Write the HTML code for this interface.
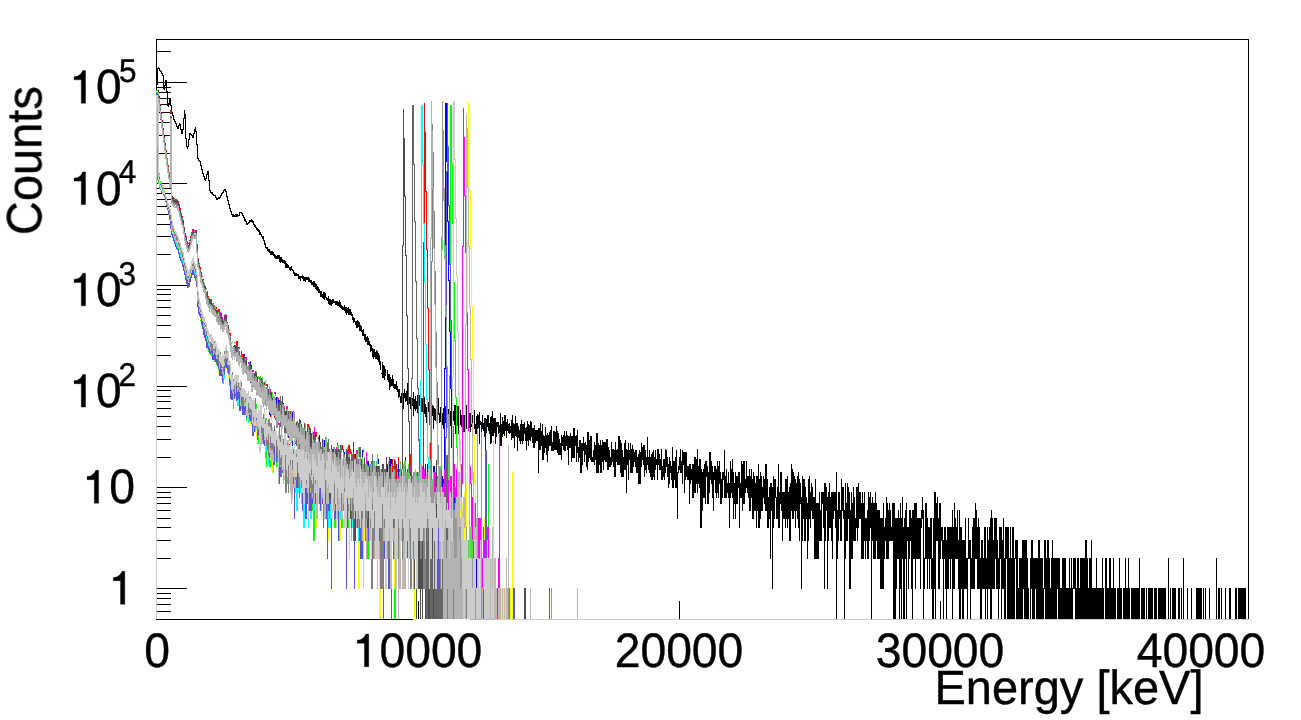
<!DOCTYPE html>
<html><head><meta charset="utf-8"><title>Energy spectrum</title>
<style>
html,body{margin:0;padding:0;background:#fff;}
svg{display:block;font-family:"Liberation Sans",sans-serif;}
</style></head><body>
<svg width="1301" height="720" viewBox="0 0 1301 720" shape-rendering="crispEdges">
<rect width="1301" height="720" fill="#fff"/>
<path d="M156 39h1093v1h-1093zM156 619h1093v1h-1093zM156 39h1v581h-1zM1248 39h1v581h-1zM156 588h31v1h-31zM156 558h15v1h-15zM156 540h15v1h-15zM156 527h15v1h-15zM156 518h15v1h-15zM156 510h15v1h-15zM156 503h15v1h-15zM156 497h15v1h-15zM156 492h15v1h-15zM156 487h31v1h-31zM156 457h15v1h-15zM156 439h15v1h-15zM156 426h15v1h-15zM156 416h15v1h-15zM156 408h15v1h-15zM156 401h15v1h-15zM156 396h15v1h-15zM156 390h15v1h-15zM156 386h31v1h-31zM156 355h15v1h-15zM156 337h15v1h-15zM156 325h15v1h-15zM156 315h15v1h-15zM156 307h15v1h-15zM156 300h15v1h-15zM156 294h15v1h-15zM156 289h15v1h-15zM156 285h31v1h-31zM156 254h15v1h-15zM156 236h15v1h-15zM156 224h15v1h-15zM156 214h15v1h-15zM156 206h15v1h-15zM156 199h15v1h-15zM156 193h15v1h-15zM156 188h15v1h-15zM156 183h31v1h-31zM156 153h15v1h-15zM156 135h15v1h-15zM156 122h15v1h-15zM156 112h15v1h-15zM156 104h15v1h-15zM156 98h15v1h-15zM156 92h15v1h-15zM156 87h15v1h-15zM156 82h31v1h-31zM156 51h15v1h-15zM156 611h15v1h-15zM156 604h15v1h-15zM156 598h15v1h-15zM156 593h15v1h-15zM418 601h1v18h-1zM679 601h1v18h-1zM940 601h1v18h-1zM1201 601h1v18h-1z" fill="#000"/>
<path d="M156 84h1v535h-1zM157 68h1v17h-1zM158 67h1v2h-1zM159 68h1v3h-1zM160 70h1v2h-1zM161 71h1v3h-1zM162 73h1v3h-1zM163 75h1v14h-1zM164 85h1v5h-1zM165 80h1v6h-1zM166 80h1v12h-1zM167 91h1v15h-1zM168 103h1v4h-1zM169 99h1v5h-1zM170 99h1v7h-1zM171 105h1v8h-1zM172 112h1v4h-1zM173 115h1v5h-1zM174 119h1v3h-1zM175 121h1v3h-1zM176 123h1v4h-1zM177 126h1v3h-1zM178 125h1v4h-1zM179 123h1v3h-1zM180 124h1v6h-1zM181 129h2v5h-2zM183 118h1v12h-1zM184 110h1v9h-1zM185 114h1v25h-1zM186 138h1v9h-1zM187 146h1v3h-1zM188 139h1v8h-1zM189 133h1v7h-1zM190 133h1v2h-1zM191 134h1v2h-1zM192 135h1v3h-1zM193 133h1v5h-1zM194 129h1v5h-1zM195 127h1v5h-1zM196 131h1v14h-1zM197 144h1v15h-1zM198 158h1v3h-1zM199 160h1v2h-1zM200 161h1v5h-1zM201 165h1v5h-1zM202 169h1v5h-1zM203 173h1v4h-1zM204 176h1v4h-1zM205 178h1v3h-1zM206 174h1v5h-1zM207 171h1v4h-1zM208 171h1v10h-1zM209 180h1v11h-1zM210 190h1v3h-1zM211 192h1v2h-1zM212 192h1v3h-1zM213 194h1v2h-1zM214 195h1v1h-1zM215 195h1v3h-1zM216 197h1v3h-1zM217 198h1v2h-1zM218 197h2v2h-2zM220 195h1v3h-1zM221 193h1v3h-1zM222 192h1v2h-1zM223 190h1v3h-1zM224 189h1v2h-1zM225 189h1v3h-1zM226 191h1v6h-1zM227 196h1v5h-1zM228 200h1v5h-1zM229 204h1v5h-1zM230 208h1v4h-1zM231 211h1v4h-1zM232 214h2v3h-2zM234 215h1v2h-1zM235 214h3v3h-3zM238 215h1v1h-1zM239 212h1v4h-1zM240 212h1v1h-1zM241 212h1v2h-1zM242 213h1v3h-1zM243 215h1v3h-1zM244 217h1v4h-1zM245 219h1v3h-1zM246 221h1v4h-1zM247 223h1v2h-1zM248 222h1v2h-1zM249 220h1v3h-1zM250 220h1v2h-1zM251 219h1v3h-1zM252 220h1v3h-1zM253 221h1v4h-1zM254 224h1v3h-1zM255 225h1v3h-1zM256 227h1v3h-1zM257 228h1v3h-1zM258 229h1v3h-1zM259 230h1v5h-1zM260 232h1v3h-1zM261 234h1v3h-1zM262 236h1v3h-1zM263 236h1v5h-1zM264 240h1v5h-1zM265 243h1v5h-1zM266 247h1v2h-1zM267 247h1v4h-1zM268 249h1v3h-1zM269 249h1v4h-1zM270 251h3v4h-3zM273 252h1v4h-1zM274 254h1v4h-1zM275 255h1v4h-1zM276 256h1v3h-1zM277 255h2v4h-2zM279 255h1v7h-1zM280 257h1v6h-1zM281 257h1v5h-1zM282 259h1v4h-1zM283 260h1v3h-1zM284 260h1v4h-1zM285 261h1v7h-1zM286 263h1v5h-1zM287 264h1v4h-1zM288 265h1v3h-1zM289 267h1v3h-1zM290 267h1v4h-1zM291 266h1v4h-1zM292 269h1v2h-1zM293 270h1v4h-1zM294 272h1v4h-1zM295 273h2v3h-2zM297 274h1v2h-1zM298 274h1v5h-1zM299 276h1v3h-1zM300 276h1v5h-1zM301 276h1v2h-1zM302 275h1v4h-1zM303 276h1v5h-1zM304 277h1v4h-1zM305 277h1v5h-1zM306 277h2v3h-2zM308 277h1v5h-1zM309 278h1v4h-1zM310 280h1v3h-1zM311 280h1v5h-1zM312 282h1v3h-1zM313 281h2v6h-2zM315 283h1v6h-1zM316 284h1v6h-1zM317 286h1v5h-1zM318 287h1v6h-1zM319 289h1v4h-1zM320 291h2v6h-2zM322 294h1v4h-1zM323 292h1v7h-1zM324 292h1v8h-1zM325 293h1v5h-1zM326 297h1v3h-1zM327 298h1v3h-1zM328 296h1v8h-1zM329 299h2v6h-2zM331 300h1v6h-1zM332 299h1v5h-1zM333 299h1v4h-1zM334 301h1v2h-1zM335 301h2v4h-2zM337 301h1v5h-1zM338 302h1v4h-1zM339 300h1v7h-1zM340 302h1v6h-1zM341 305h1v4h-1zM342 306h1v4h-1zM343 307h1v3h-1zM344 305h1v6h-1zM345 307h1v6h-1zM346 307h1v8h-1zM347 308h1v5h-1zM348 307h1v8h-1zM349 309h2v6h-2zM351 312h1v4h-1zM352 314h1v6h-1zM353 317h1v6h-1zM354 318h1v4h-1zM355 321h1v4h-1zM356 321h1v7h-1zM357 320h1v8h-1zM358 321h1v6h-1zM359 322h1v9h-1zM360 325h1v6h-1zM361 326h1v6h-1zM362 330h1v6h-1zM363 329h1v7h-1zM364 334h1v6h-1zM365 334h1v8h-1zM366 337h1v5h-1zM367 336h1v9h-1zM368 338h1v7h-1zM369 341h1v5h-1zM370 344h1v8h-1zM371 345h1v6h-1zM372 348h1v9h-1zM373 349h1v10h-1zM374 349h1v8h-1zM375 352h1v7h-1zM376 350h1v9h-1zM377 351h1v9h-1zM378 353h1v9h-1zM379 355h1v10h-1zM380 361h1v9h-1zM381 361h1v13h-1zM382 362h1v16h-1zM383 365h1v13h-1zM384 366h1v14h-1zM385 369h1v7h-1zM386 369h1v11h-1zM387 370h1v10h-1zM388 374h1v8h-1zM389 374h1v16h-1zM390 377h1v10h-1zM391 379h1v7h-1zM392 375h1v11h-1zM393 379h1v9h-1zM394 384h2v5h-2zM396 381h1v9h-1zM397 386h1v6h-1zM398 389h1v9h-1zM399 389h1v8h-1zM400 396h1v7h-1zM401 393h1v10h-1zM402 391h1v18h-1zM403 393h1v16h-1zM404 389h1v9h-1zM405 393h1v9h-1zM406 391h1v10h-1zM407 383h1v22h-1zM408 398h1v8h-1zM409 397h1v7h-1zM410 397h1v12h-1zM411 400h1v14h-1zM412 398h1v8h-1zM413 392h1v24h-1zM414 399h1v10h-1zM415 396h1v15h-1zM416 401h1v8h-1zM417 395h1v18h-1zM418 395h1v17h-1zM419 395h1v11h-1zM420 398h1v11h-1zM421 398h2v14h-2zM423 397h1v18h-1zM424 397h1v17h-1zM425 404h1v13h-1zM426 407h1v16h-1zM427 402h1v21h-1zM428 402h1v10h-1zM429 403h2v13h-2zM431 408h1v6h-1zM432 405h1v11h-1zM433 406h1v23h-1zM434 408h1v12h-1zM435 409h1v12h-1zM436 413h1v10h-1zM437 401h1v25h-1zM438 398h1v17h-1zM439 413h1v10h-1zM440 407h1v15h-1zM441 406h1v13h-1zM442 413h1v12h-1zM443 408h1v21h-1zM444 406h1v22h-1zM445 406h1v17h-1zM446 411h1v14h-1zM447 406h1v13h-1zM448 409h1v12h-1zM449 409h1v11h-1zM450 411h1v15h-1zM451 403h1v29h-1zM452 403h1v19h-1zM453 411h1v10h-1zM454 405h1v20h-1zM455 405h1v29h-1zM456 416h1v17h-1zM457 406h1v20h-1zM458 406h1v28h-1zM459 411h1v21h-1zM460 410h1v15h-1zM461 415h1v12h-1zM462 410h1v12h-1zM463 415h2v17h-2zM465 411h1v8h-1zM466 405h1v24h-1zM467 406h1v17h-1zM468 414h1v17h-1zM469 413h1v20h-1zM470 413h1v19h-1zM471 414h1v13h-1zM472 415h1v12h-1zM473 409h1v20h-1zM474 410h1v19h-1zM475 424h1v10h-1zM476 416h1v18h-1zM477 414h1v15h-1zM478 415h1v13h-1zM479 412h1v32h-1zM480 421h1v4h-1zM481 422h1v15h-1zM482 415h1v14h-1zM483 423h1v8h-1zM484 418h1v19h-1zM485 418h1v9h-1zM486 419h1v14h-1zM487 415h1v12h-1zM488 415h1v16h-1zM489 423h1v11h-1zM490 417h1v27h-1zM491 416h1v27h-1zM492 411h1v25h-1zM493 418h1v18h-1zM494 418h1v15h-1zM495 418h1v26h-1zM496 422h1v15h-1zM497 422h1v5h-1zM498 422h1v12h-1zM499 425h1v8h-1zM500 413h1v33h-1zM501 424h1v22h-1zM502 417h1v20h-1zM503 421h1v13h-1zM504 415h1v21h-1zM505 415h1v16h-1zM506 422h1v16h-1zM507 419h1v12h-1zM508 424h1v9h-1zM509 423h1v11h-1zM510 426h1v7h-1zM511 420h1v20h-1zM512 415h1v23h-1zM513 423h1v15h-1zM514 424h1v24h-1zM515 416h1v20h-1zM516 423h1v14h-1zM517 423h1v28h-1zM518 426h1v12h-1zM519 430h1v11h-1zM520 424h1v20h-1zM521 420h1v21h-1zM522 424h1v20h-1zM523 424h1v17h-1zM524 422h1v12h-1zM525 428h1v13h-1zM526 427h1v23h-1zM527 421h1v20h-1zM528 424h1v22h-1zM529 425h1v15h-1zM530 421h1v20h-1zM531 422h1v15h-1zM532 428h1v15h-1zM533 428h1v20h-1zM534 425h1v23h-1zM535 430h1v13h-1zM536 430h2v11h-2zM538 428h1v45h-1zM539 428h1v22h-1zM540 423h1v27h-1zM541 431h1v15h-1zM542 424h1v36h-1zM543 435h1v25h-1zM544 436h1v17h-1zM545 427h1v21h-1zM546 435h1v20h-1zM547 433h1v29h-1zM548 435h1v16h-1zM549 432h1v14h-1zM550 430h1v16h-1zM551 426h1v25h-1zM552 442h1v9h-1zM553 431h1v20h-1zM554 431h1v19h-1zM555 432h1v18h-1zM556 426h1v24h-1zM557 431h1v22h-1zM558 433h1v22h-1zM559 439h1v16h-1zM560 443h1v12h-1zM561 435h1v25h-1zM562 437h1v9h-1zM563 435h1v15h-1zM564 431h1v20h-1zM565 436h1v15h-1zM566 431h1v15h-1zM567 435h1v15h-1zM568 436h1v29h-1zM569 436h1v12h-1zM570 433h1v15h-1zM571 436h1v26h-1zM572 436h1v22h-1zM573 428h2v30h-2zM575 436h1v10h-1zM576 435h1v27h-1zM577 430h1v23h-1zM578 447h1v15h-1zM579 440h1v18h-1zM580 440h1v33h-1zM581 443h1v30h-1zM582 443h1v22h-1zM583 437h1v14h-1zM584 443h1v19h-1zM585 442h1v13h-1zM586 445h1v22h-1zM587 432h1v38h-1zM588 432h1v30h-1zM589 440h1v18h-1zM590 436h1v24h-1zM591 436h1v26h-1zM592 457h1v5h-1zM593 450h1v12h-1zM594 442h1v23h-1zM595 445h1v15h-1zM596 433h2v40h-2zM598 443h1v30h-1zM599 445h1v20h-1zM600 440h1v33h-1zM601 445h1v28h-1zM602 440h1v22h-1zM603 442h1v28h-1zM604 442h1v18h-1zM605 442h1v20h-1zM606 439h1v23h-1zM607 439h1v31h-1zM608 447h1v23h-1zM609 450h1v17h-1zM610 457h1v10h-1zM611 442h1v23h-1zM612 449h1v13h-1zM613 449h1v18h-1zM614 450h1v27h-1zM615 442h1v35h-1zM616 450h1v12h-1zM617 449h1v16h-1zM618 436h2v29h-2zM620 440h1v33h-1zM621 443h1v34h-1zM622 450h1v27h-1zM623 457h1v20h-1zM624 443h1v27h-1zM625 440h1v30h-1zM626 449h1v44h-1zM627 450h1v15h-1zM628 443h1v37h-1zM629 450h1v10h-1zM630 443h1v30h-1zM631 449h1v24h-1zM632 445h1v28h-1zM633 449h1v18h-1zM634 452h1v10h-1zM635 450h1v17h-1zM636 450h1v23h-1zM637 457h1v16h-1zM638 454h1v30h-1zM639 450h1v34h-1zM640 452h1v32h-1zM641 443h1v24h-1zM642 447h1v13h-1zM643 445h1v20h-1zM644 445h1v32h-1zM645 450h1v20h-1zM646 457h1v16h-1zM647 437h1v28h-1zM648 457h1v13h-1zM649 450h1v23h-1zM650 457h1v20h-1zM651 454h1v26h-1zM652 452h1v28h-1zM653 450h1v27h-1zM654 457h1v23h-1zM655 450h1v20h-1zM656 459h1v6h-1zM657 449h1v31h-1zM658 449h1v16h-1zM659 454h1v16h-1zM660 459h1v11h-1zM661 449h1v31h-1zM662 466h1v14h-1zM663 459h1v18h-1zM664 459h1v21h-1zM665 449h1v24h-1zM666 450h1v17h-1zM667 457h1v20h-1zM668 464h1v24h-1zM669 457h1v27h-1zM670 461h1v12h-1zM671 466h1v14h-1zM672 447h1v41h-1zM673 461h1v27h-1zM674 461h1v19h-1zM675 457h1v31h-1zM676 450h1v38h-1zM677 472h1v47h-1zM678 466h1v7h-1zM679 457h1v13h-1zM680 449h1v24h-1zM681 461h1v12h-1zM682 450h1v34h-1zM683 452h1v13h-1zM684 452h1v41h-1zM685 452h1v28h-1zM686 452h1v25h-1zM687 466h2v14h-2zM689 464h1v40h-1zM690 464h1v20h-1zM691 469h1v11h-1zM692 464h2v34h-2zM694 457h2v36h-2zM696 459h1v25h-1zM697 449h1v44h-1zM698 466h1v18h-1zM699 459h1v29h-1zM700 459h1v69h-1zM701 469h1v59h-1zM702 472h1v39h-1zM703 469h1v29h-1zM704 464h1v34h-1zM705 461h1v43h-1zM706 461h1v16h-1zM707 466h1v38h-1zM708 472h1v32h-1zM709 452h1v41h-1zM710 452h1v28h-1zM711 461h1v23h-1zM712 466h1v32h-1zM713 472h1v39h-1zM714 466h1v14h-1zM715 466h1v27h-1zM716 469h1v29h-1zM717 461h1v32h-1zM718 466h1v32h-1zM719 461h1v23h-1zM720 472h1v32h-1zM721 479h1v25h-1zM722 472h1v26h-1zM723 472h1v8h-1zM724 450h1v48h-1zM725 476h1v22h-1zM726 469h1v29h-1zM727 483h1v10h-1zM728 472h1v26h-1zM729 483h1v45h-1zM730 461h1v37h-1zM731 469h1v24h-1zM732 459h1v39h-1zM733 472h1v47h-1zM734 483h1v21h-1zM735 472h1v47h-1zM736 476h2v28h-2zM738 472h1v16h-1zM739 472h1v56h-1zM740 483h1v15h-1zM741 461h1v37h-1zM742 464h1v47h-1zM743 461h2v43h-2zM745 479h1v14h-1zM746 461h1v27h-1zM747 476h1v17h-1zM748 476h1v22h-1zM749 469h1v42h-1zM750 476h1v35h-1zM751 469h1v29h-1zM752 479h1v40h-1zM753 472h1v47h-1zM754 476h1v35h-1zM755 483h1v28h-1zM756 476h1v52h-1zM757 476h1v35h-1zM758 464h1v64h-1zM759 479h1v49h-1zM760 472h1v47h-1zM761 476h1v35h-1zM762 487h1v24h-1zM763 476h1v22h-1zM764 479h1v25h-1zM765 464h2v47h-2zM767 479h1v49h-1zM768 497h1v31h-1zM769 487h1v32h-1zM770 483h1v76h-1zM771 483h1v28h-1zM772 487h1v102h-1zM773 476h1v52h-1zM774 479h1v40h-1zM775 479h1v19h-1zM776 497h1v22h-1zM777 487h1v32h-1zM778 464h1v64h-1zM779 492h1v36h-1zM780 472h1v32h-1zM781 472h1v39h-1zM782 492h1v49h-1zM783 492h2v27h-2zM785 479h1v49h-1zM786 479h1v40h-1zM787 476h1v52h-1zM788 492h1v27h-1zM789 487h1v54h-1zM790 483h1v58h-1zM791 464h1v47h-1zM792 469h1v50h-1zM793 472h1v47h-1zM794 476h1v35h-1zM795 479h1v49h-1zM796 483h1v28h-1zM797 476h1v43h-1zM798 472h1v56h-1zM799 479h1v62h-1zM800 483h1v21h-1zM801 497h1v92h-1zM802 476h1v65h-1zM803 479h1v40h-1zM804 479h1v62h-1zM805 487h1v54h-1zM806 497h1v22h-1zM807 503h1v56h-1zM808 479h1v62h-1zM809 476h1v43h-1zM810 492h1v36h-1zM811 483h1v28h-1zM812 487h1v32h-1zM813 497h1v22h-1zM814 497h1v62h-1zM815 479h1v80h-1zM816 503h3v56h-3zM819 492h1v49h-1zM820 510h1v31h-1zM821 492h1v49h-1zM822 492h1v12h-1zM823 492h1v36h-1zM824 483h1v106h-1zM825 483h1v58h-1zM826 487h1v24h-1zM827 497h1v92h-1zM828 492h1v49h-1zM829 483h1v45h-1zM830 497h1v31h-1zM831 492h1v49h-1zM832 492h1v67h-1zM833 492h1v27h-1zM834 492h1v19h-1zM835 492h1v36h-1zM836 472h1v147h-1zM837 510h1v49h-1zM838 492h1v49h-1zM839 492h1v27h-1zM840 510h1v31h-1zM841 479h1v62h-1zM842 487h1v24h-1zM843 487h1v32h-1zM844 510h1v109h-1zM845 483h1v76h-1zM846 503h1v38h-1zM847 483h1v58h-1zM848 487h1v32h-1zM849 492h1v97h-1zM850 510h1v79h-1zM851 492h1v67h-1zM852 503h1v56h-1zM853 487h1v54h-1zM854 497h1v44h-1zM855 518h1v23h-1zM856 487h1v41h-1zM857 487h1v54h-1zM858 483h1v45h-1zM859 492h2v27h-2zM861 503h1v56h-1zM862 492h1v67h-1zM863 503h1v56h-1zM864 492h1v49h-1zM865 518h1v41h-1zM866 518h1v23h-1zM867 510h1v49h-1zM868 492h1v67h-1zM869 497h1v44h-1zM870 492h1v36h-1zM871 503h1v116h-1zM872 497h1v44h-1zM873 503h2v56h-2zM875 492h1v67h-1zM876 503h1v38h-1zM877 510h3v49h-3zM880 518h3v71h-3zM883 503h1v86h-1zM884 527h1v32h-1zM885 518h1v23h-1zM886 497h1v62h-1zM887 503h1v56h-1zM888 510h1v49h-1zM889 503h1v38h-1zM890 510h1v31h-1zM891 527h1v14h-1zM892 503h1v38h-1zM893 503h2v116h-2zM895 518h1v101h-1zM896 518h1v71h-1zM897 518h1v41h-1zM898 510h1v49h-1zM899 518h1v101h-1zM900 503h1v86h-1zM901 518h1v101h-1zM902 497h1v62h-1zM903 527h1v92h-1zM904 518h1v101h-1zM905 510h1v49h-1zM906 503h1v116h-1zM907 527h1v14h-1zM908 527h1v62h-1zM909 510h1v49h-1zM910 510h1v31h-1zM911 518h1v71h-1zM912 510h1v109h-1zM913 510h1v49h-1zM914 503h1v56h-1zM915 503h1v86h-1zM916 503h1v56h-1zM917 518h3v41h-3zM920 518h1v71h-1zM921 510h1v18h-1zM922 497h1v22h-1zM923 510h1v109h-1zM924 558h1v31h-1zM925 503h2v56h-2zM927 518h1v71h-1zM928 527h1v32h-1zM929 527h1v62h-1zM930 518h1v41h-1zM931 518h1v71h-1zM932 558h1v61h-1zM933 518h1v101h-1zM934 492h1v97h-1zM935 492h1v127h-1zM936 503h1v38h-1zM937 497h1v44h-1zM938 518h1v71h-1zM939 503h1v86h-1zM940 503h1v56h-1zM941 527h1v14h-1zM942 527h1v32h-1zM943 540h1v79h-1zM944 527h1v32h-1zM945 527h1v62h-1zM946 540h1v79h-1zM947 527h2v62h-2zM949 527h1v32h-1zM950 527h1v62h-1zM951 527h1v32h-1zM952 510h1v109h-1zM953 527h1v62h-1zM954 503h1v86h-1zM955 518h1v41h-1zM956 527h1v32h-1zM957 510h1v49h-1zM958 540h1v49h-1zM959 510h1v109h-1zM960 527h1v92h-1zM961 527h1v62h-1zM962 540h2v79h-2zM964 540h1v49h-1zM965 518h1v71h-1zM966 558h1v31h-1zM967 558h1v61h-1zM968 518h1v41h-1zM969 540h1v19h-1zM970 540h1v79h-1zM971 558h1v31h-1zM972 527h1v62h-1zM973 518h2v71h-2zM975 503h1v56h-1zM976 510h1v49h-1zM977 527h1v62h-1zM978 518h1v71h-1zM979 527h1v62h-1zM980 558h1v61h-1zM981 540h1v79h-1zM982 540h1v49h-1zM983 558h1v31h-1zM984 527h1v62h-1zM985 527h1v92h-1zM986 558h1v31h-1zM987 527h1v92h-1zM988 540h1v49h-1zM989 527h1v62h-1zM990 518h1v101h-1zM991 510h1v109h-1zM992 518h1v71h-1zM993 540h1v49h-1zM994 518h1v71h-1zM995 518h1v41h-1zM996 518h1v71h-1zM997 540h1v49h-1zM998 558h1v61h-1zM999 527h1v62h-1zM1000 527h1v32h-1zM1001 527h1v92h-1zM1002 540h1v49h-1zM1003 518h1v71h-1zM1004 558h1v61h-1zM1005 527h1v92h-1zM1006 527h1v32h-1zM1007 527h2v92h-2zM1009 558h1v61h-1zM1010 527h1v92h-1zM1011 558h1v61h-1zM1012 527h2v92h-2zM1014 558h1v61h-1zM1015 540h1v19h-1zM1016 540h2v79h-2zM1018 588h1v31h-1zM1019 558h3v61h-3zM1022 540h1v79h-1zM1023 540h1v49h-1zM1024 540h3v79h-3zM1027 558h1v61h-1zM1028 588h1v31h-1zM1029 619h1v1h-1zM1030 558h1v61h-1zM1031 540h1v49h-1zM1032 540h1v79h-1zM1033 558h2v61h-2zM1035 558h1v31h-1zM1036 558h2v61h-2zM1038 540h2v79h-2zM1040 558h3v61h-3zM1043 588h1v31h-1zM1044 540h1v49h-1zM1045 540h1v79h-1zM1046 558h1v61h-1zM1047 540h2v79h-2zM1049 558h1v61h-1zM1050 588h1v31h-1zM1051 558h1v61h-1zM1052 540h1v79h-1zM1053 558h4v61h-4zM1057 558h1v31h-1zM1058 558h2v61h-2zM1060 588h2v31h-2zM1062 558h4v61h-4zM1066 588h3v31h-3zM1069 558h1v61h-1zM1070 588h1v31h-1zM1071 558h1v61h-1zM1072 588h1v31h-1zM1073 558h2v31h-2zM1075 558h1v61h-1zM1076 588h1v31h-1zM1077 558h2v61h-2zM1079 588h1v31h-1zM1080 558h5v61h-5zM1085 540h2v79h-2zM1087 558h1v61h-1zM1088 588h1v31h-1zM1089 558h2v61h-2zM1091 540h1v79h-1zM1092 588h4v31h-4zM1096 558h1v61h-1zM1097 588h5v31h-5zM1102 558h1v61h-1zM1103 588h1v31h-1zM1104 619h1v1h-1zM1105 558h2v61h-2zM1107 588h2v31h-2zM1109 558h2v61h-2zM1111 588h2v31h-2zM1113 558h1v61h-1zM1114 588h2v31h-2zM1116 619h1v1h-1zM1117 588h2v31h-2zM1119 558h1v61h-1zM1120 588h2v31h-2zM1122 619h1v1h-1zM1123 588h2v31h-2zM1125 558h1v61h-1zM1126 588h2v31h-2zM1128 558h1v61h-1zM1129 588h1v31h-1zM1130 619h1v1h-1zM1131 588h8v31h-8zM1139 558h1v61h-1zM1140 619h1v1h-1zM1141 588h4v31h-4zM1145 619h1v1h-1zM1146 588h1v31h-1zM1147 619h1v1h-1zM1148 588h5v31h-5zM1153 619h1v1h-1zM1154 588h3v31h-3zM1157 619h1v1h-1zM1158 588h8v31h-8zM1166 619h2v1h-2zM1168 558h1v61h-1zM1169 619h1v1h-1zM1170 588h1v31h-1zM1171 619h1v1h-1zM1172 588h4v31h-4zM1176 619h2v1h-2zM1178 588h2v31h-2zM1180 619h1v1h-1zM1181 588h1v31h-1zM1182 619h1v1h-1zM1183 558h1v61h-1zM1184 619h3v1h-3zM1187 588h1v31h-1zM1188 619h3v1h-3zM1191 588h1v31h-1zM1192 619h4v1h-4zM1196 588h6v31h-6zM1202 619h1v1h-1zM1203 588h1v31h-1zM1204 619h1v1h-1zM1205 588h1v31h-1zM1206 619h3v1h-3zM1209 588h1v31h-1zM1210 619h6v1h-6zM1216 558h1v61h-1zM1217 619h1v1h-1zM1218 588h2v31h-2zM1220 619h1v1h-1zM1221 588h1v31h-1zM1222 619h3v1h-3zM1225 588h1v31h-1zM1226 619h3v1h-3zM1229 588h2v31h-2zM1231 619h4v1h-4zM1235 588h2v31h-2zM1237 619h1v1h-1zM1238 588h8v31h-8zM1246 619h3v1h-3z" fill="#000"/>
<path d="M156 90h1v529h-1zM157 90h1v1h-1zM158 90h1v72h-1zM159 96h1v9h-1zM160 104h1v9h-1zM161 112h1v9h-1zM162 120h1v9h-1zM163 128h1v9h-1zM164 136h1v8h-1zM165 143h1v8h-1zM166 150h1v9h-1zM167 158h1v8h-1zM168 165h1v8h-1zM169 172h1v8h-1zM170 110h1v70h-1zM171 110h1v87h-1zM172 196h1v3h-1zM173 197h1v3h-1zM174 198h1v3h-1zM175 199h2v2h-2zM177 200h1v2h-1zM178 201h1v4h-1zM179 204h1v5h-1zM180 208h1v6h-1zM181 213h1v5h-1zM182 216h1v5h-1zM183 220h1v8h-1zM184 227h1v7h-1zM185 233h1v5h-1zM186 237h1v6h-1zM187 241h1v5h-1zM188 243h1v3h-1zM189 240h1v4h-1zM190 236h1v5h-1zM191 232h1v6h-1zM192 229h1v4h-1zM193 229h1v3h-1zM194 230h2v2h-2zM196 230h1v15h-1zM197 244h1v15h-1zM198 258h1v6h-1zM199 263h1v5h-1zM200 267h1v6h-1zM201 272h1v6h-1zM202 276h1v4h-1zM203 279h1v5h-1zM204 283h1v6h-1zM205 286h1v6h-1zM206 291h1v6h-1zM207 291h1v7h-1zM208 296h1v7h-1zM209 299h1v3h-1zM210 299h1v6h-1zM211 299h1v8h-1zM212 304h2v4h-2zM214 305h1v6h-1zM215 307h1v5h-1zM216 307h1v6h-1zM217 310h1v6h-1zM218 309h1v7h-1zM219 309h1v8h-1zM220 313h1v6h-1zM221 313h1v12h-1zM222 319h1v4h-1zM223 320h1v5h-1zM224 316h1v9h-1zM225 314h1v8h-1zM226 315h1v11h-1zM227 323h1v5h-1zM228 327h1v5h-1zM229 331h1v10h-1zM230 333h1v10h-1zM231 342h1v11h-1zM232 343h1v10h-1zM233 343h1v9h-1zM234 342h1v7h-1zM235 345h1v7h-1zM236 341h1v11h-1zM237 341h1v13h-1zM238 347h1v7h-1zM239 350h1v7h-1zM240 349h1v12h-1zM241 353h1v6h-1zM242 354h1v12h-1zM243 354h1v11h-1zM244 357h1v6h-1zM245 357h1v12h-1zM246 360h1v7h-1zM247 365h1v6h-1zM248 366h1v8h-1zM249 368h1v9h-1zM250 367h1v9h-1zM251 374h1v8h-1zM252 375h1v7h-1zM253 371h1v11h-1zM254 374h1v6h-1zM255 371h1v10h-1zM256 377h1v5h-1zM257 376h1v12h-1zM258 380h1v8h-1zM259 380h1v6h-1zM260 380h1v11h-1zM261 381h1v10h-1zM262 383h1v12h-1zM263 383h1v10h-1zM264 384h1v6h-1zM265 380h1v15h-1zM266 384h1v14h-1zM267 384h1v16h-1zM268 396h1v10h-1zM269 391h1v11h-1zM270 396h1v21h-1zM271 395h1v22h-1zM272 393h1v16h-1zM273 400h1v8h-1zM274 401h1v17h-1zM275 402h1v11h-1zM276 397h1v16h-1zM277 398h1v15h-1zM278 398h1v17h-1zM279 401h1v16h-1zM280 400h1v13h-1zM281 406h1v9h-1zM282 405h1v10h-1zM283 407h1v19h-1zM284 414h1v14h-1zM285 411h1v17h-1zM286 411h1v12h-1zM287 411h1v16h-1zM288 411h1v27h-1zM289 411h1v39h-1zM290 411h1v18h-1zM291 418h1v16h-1zM292 416h1v10h-1zM293 411h1v26h-1zM294 422h1v6h-1zM295 419h1v25h-1zM296 425h1v19h-1zM297 422h1v16h-1zM298 430h1v14h-1zM299 425h1v15h-1zM300 424h1v20h-1zM301 424h1v36h-1zM302 432h1v30h-1zM303 435h1v18h-1zM304 435h1v13h-1zM305 432h2v16h-2zM307 424h1v24h-1zM308 424h1v27h-1zM309 435h1v16h-1zM310 435h1v38h-1zM311 437h1v23h-1zM312 432h1v28h-1zM313 432h1v18h-1zM314 440h1v13h-1zM315 432h1v28h-1zM316 432h1v38h-1zM317 442h1v20h-1zM318 445h1v32h-1zM319 450h1v27h-1zM320 442h1v20h-1zM321 440h1v11h-1zM322 439h1v23h-1zM323 439h1v19h-1zM324 445h1v20h-1zM325 449h1v31h-1zM326 449h1v21h-1zM327 449h1v16h-1zM328 445h1v17h-1zM329 461h1v12h-1zM330 457h1v8h-1zM331 454h1v19h-1zM332 454h1v26h-1zM333 450h1v30h-1zM334 461h1v6h-1zM335 459h1v11h-1zM336 454h1v26h-1zM337 443h1v24h-1zM338 447h1v33h-1zM339 452h2v36h-2zM341 445h1v43h-1zM342 445h1v25h-1zM343 454h1v23h-1zM344 461h1v12h-1zM345 469h1v15h-1zM346 457h1v23h-1zM347 461h1v19h-1zM348 445h1v28h-1zM349 445h1v32h-1zM350 449h1v44h-1zM351 464h1v29h-1zM352 464h1v34h-1zM353 454h1v44h-1zM354 454h1v50h-1zM355 472h1v32h-1zM356 457h1v31h-1zM357 466h1v38h-1zM358 454h1v26h-1zM359 464h1v16h-1zM360 466h1v22h-1zM361 461h1v27h-1zM362 461h1v23h-1zM363 450h1v48h-1zM364 464h1v20h-1zM365 464h1v13h-1zM366 459h1v18h-1zM367 469h1v24h-1zM368 464h1v24h-1zM369 464h1v34h-1zM370 466h1v32h-1zM371 479h1v5h-1zM372 457h1v41h-1zM373 479h1v9h-1zM374 464h1v34h-1zM375 469h1v29h-1zM376 472h1v26h-1zM377 469h1v59h-1zM378 464h1v34h-1zM379 469h1v19h-1zM380 469h1v42h-1zM381 479h1v32h-1zM382 464h1v20h-1zM383 469h1v15h-1zM384 476h1v43h-1zM385 479h1v40h-1zM386 469h1v59h-1zM387 464h1v40h-1zM388 464h1v34h-1zM389 457h1v31h-1zM390 476h1v35h-1zM391 469h1v24h-1zM392 459h1v29h-1zM393 476h1v22h-1zM394 459h1v29h-1zM395 461h1v58h-1zM396 464h1v55h-1zM397 479h1v40h-1zM398 457h1v62h-1zM399 469h1v29h-1zM400 479h1v19h-1zM401 479h1v32h-1zM402 476h1v28h-1zM403 472h1v32h-1zM404 472h1v39h-1zM405 479h1v32h-1zM406 472h1v12h-1zM407 469h1v29h-1zM408 472h1v47h-1zM409 476h1v43h-1zM410 454h1v65h-1zM411 476h1v28h-1zM412 476h1v65h-1zM413 487h1v54h-1zM414 479h1v32h-1zM415 472h1v21h-1zM416 476h1v28h-1zM417 472h1v26h-1zM418 476h1v22h-1zM419 466h1v62h-1zM420 479h1v49h-1zM421 487h1v17h-1zM422 472h1v32h-1zM423 242h1v235h-1zM424 103h1v140h-1zM425 132h1v60h-1zM426 191h1v59h-1zM427 249h1v60h-1zM428 308h1v62h-1zM429 369h1v56h-1zM430 424h1v49h-1zM431 461h1v37h-1zM432 492h1v36h-1zM433 497h1v44h-1zM434 503h1v25h-1zM435 503h1v86h-1zM436 518h1v101h-1zM437 510h1v109h-1zM438 518h1v101h-1zM439 518h1v71h-1zM440 558h1v31h-1zM441 518h1v71h-1zM442 540h1v49h-1zM443 540h1v19h-1zM444 510h1v49h-1zM445 510h1v109h-1zM446 527h1v92h-1zM447 558h1v61h-1zM448 540h1v79h-1zM449 558h1v31h-1zM450 527h1v92h-1zM451 558h1v61h-1zM452 540h2v79h-2zM454 588h1v31h-1zM455 558h1v61h-1zM456 588h4v31h-4zM460 450h1v169h-1zM461 619h25v1h-25zM486 588h1v31h-1zM487 619h762v1h-762z" fill="#ff0000"/>
<path d="M156 90h1v529h-1zM157 90h1v11h-1zM158 100h1v74h-1zM159 173h1v9h-1zM160 181h1v2h-1zM161 182h1v4h-1zM162 185h1v3h-1zM163 187h1v5h-1zM164 191h1v4h-1zM165 194h1v6h-1zM166 199h1v5h-1zM167 203h1v5h-1zM168 207h1v7h-1zM169 213h1v5h-1zM170 217h1v9h-1zM171 225h1v10h-1zM172 234h1v4h-1zM173 237h1v3h-1zM174 238h1v4h-1zM175 240h1v5h-1zM176 243h1v4h-1zM177 246h1v3h-1zM178 248h1v5h-1zM179 252h1v4h-1zM180 255h1v4h-1zM181 258h1v4h-1zM182 260h1v4h-1zM183 263h1v6h-1zM184 268h1v6h-1zM185 272h1v5h-1zM186 276h1v6h-1zM187 281h1v5h-1zM188 281h1v7h-1zM189 280h1v4h-1zM190 277h1v4h-1zM191 271h1v7h-1zM192 270h2v2h-2zM194 271h1v4h-1zM195 274h1v6h-1zM196 279h1v9h-1zM197 287h1v18h-1zM198 304h1v7h-1zM199 309h1v7h-1zM200 314h1v7h-1zM201 314h1v12h-1zM202 318h1v8h-1zM203 324h1v8h-1zM204 328h1v6h-1zM205 332h1v7h-1zM206 335h1v7h-1zM207 338h1v9h-1zM208 343h1v9h-1zM209 343h1v11h-1zM210 349h1v6h-1zM211 348h1v8h-1zM212 347h1v10h-1zM213 351h1v6h-1zM214 351h1v11h-1zM215 355h1v3h-1zM216 353h1v12h-1zM217 359h1v6h-1zM218 361h1v5h-1zM219 357h1v13h-1zM220 364h1v12h-1zM221 371h1v7h-1zM222 366h1v13h-1zM223 371h1v13h-1zM224 366h1v9h-1zM225 358h1v9h-1zM226 357h1v11h-1zM227 363h1v10h-1zM228 365h1v6h-1zM229 369h1v17h-1zM230 376h1v14h-1zM231 384h1v15h-1zM232 391h1v9h-1zM233 391h1v18h-1zM234 386h1v10h-1zM235 383h1v12h-1zM236 380h1v15h-1zM237 389h1v9h-1zM238 386h1v12h-1zM239 390h1v7h-1zM240 394h1v9h-1zM241 396h1v13h-1zM242 397h1v8h-1zM243 393h1v13h-1zM244 400h1v14h-1zM245 400h1v15h-1zM246 403h1v18h-1zM247 401h1v11h-1zM248 401h1v19h-1zM249 404h1v18h-1zM250 408h1v10h-1zM251 414h1v11h-1zM252 406h1v15h-1zM253 415h1v17h-1zM254 417h1v11h-1zM255 418h1v13h-1zM256 404h1v24h-1zM257 415h1v29h-1zM258 422h1v22h-1zM259 415h1v18h-1zM260 430h1v8h-1zM261 420h1v21h-1zM262 432h1v6h-1zM263 431h1v13h-1zM264 427h1v17h-1zM265 418h1v40h-1zM266 418h1v49h-1zM267 424h1v14h-1zM268 424h1v24h-1zM269 437h1v30h-1zM270 432h1v35h-1zM271 427h1v38h-1zM272 437h1v33h-1zM273 436h1v34h-1zM274 445h1v17h-1zM275 450h1v10h-1zM276 435h2v32h-2zM278 442h3v25h-3zM281 436h1v34h-1zM282 436h1v26h-1zM283 452h1v13h-1zM284 445h1v22h-1zM285 447h1v23h-1zM286 447h1v41h-1zM287 457h1v27h-1zM288 454h1v19h-1zM289 457h1v23h-1zM290 457h1v36h-1zM291 459h1v14h-1zM292 459h1v18h-1zM293 459h1v25h-1zM294 476h1v8h-1zM295 466h1v18h-1zM296 461h1v23h-1zM297 454h1v30h-1zM298 454h1v39h-1zM299 464h1v24h-1zM300 459h1v29h-1zM301 461h1v16h-1zM302 461h1v37h-1zM303 472h1v21h-1zM304 466h1v27h-1zM305 476h1v35h-1zM306 469h1v29h-1zM307 476h1v17h-1zM308 472h1v16h-1zM309 469h1v42h-1zM310 469h1v24h-1zM311 476h1v35h-1zM312 472h1v39h-1zM313 472h1v69h-1zM314 469h1v72h-1zM315 472h1v39h-1zM316 461h1v37h-1zM317 457h1v54h-1zM318 457h1v31h-1zM319 469h2v15h-2zM321 472h1v32h-1zM322 472h1v26h-1zM323 472h1v32h-1zM324 472h1v26h-1zM325 464h1v40h-1zM326 487h1v17h-1zM327 472h1v32h-1zM328 472h1v12h-1zM329 472h1v47h-1zM330 476h1v28h-1zM331 469h1v19h-1zM332 464h1v40h-1zM333 476h1v35h-1zM334 483h1v45h-1zM335 479h1v49h-1zM336 466h1v38h-1zM337 479h1v32h-1zM338 483h1v28h-1zM339 487h1v24h-1zM340 472h1v26h-1zM341 479h1v49h-1zM342 487h1v41h-1zM343 472h1v32h-1zM344 472h1v47h-1zM345 483h1v28h-1zM346 469h1v42h-1zM347 479h1v32h-1zM348 487h1v41h-1zM349 492h2v27h-2zM351 479h1v62h-1zM352 476h1v52h-1zM353 487h1v6h-1zM354 492h1v27h-1zM355 492h1v12h-1zM356 476h1v43h-1zM357 492h2v27h-2zM359 479h1v80h-1zM360 487h1v54h-1zM361 492h2v49h-2zM363 497h1v22h-1zM364 492h2v36h-2zM366 487h1v41h-1zM367 503h1v56h-1zM368 510h1v49h-1zM369 492h1v36h-1zM370 487h1v24h-1zM371 487h1v54h-1zM372 487h2v72h-2zM374 492h1v67h-1zM375 503h2v38h-2zM377 497h1v92h-1zM378 492h1v36h-1zM379 510h1v18h-1zM380 497h1v31h-1zM381 497h2v62h-2zM383 518h1v41h-1zM384 518h1v23h-1zM385 483h1v76h-1zM386 492h1v67h-1zM387 510h1v31h-1zM388 518h1v23h-1zM389 497h1v62h-1zM390 497h1v44h-1zM391 510h2v49h-2zM393 503h1v56h-1zM394 510h2v109h-2zM396 497h1v62h-1zM397 510h1v31h-1zM398 540h1v49h-1zM399 510h1v79h-1zM400 510h1v49h-1zM401 510h1v31h-1zM402 483h1v76h-1zM403 497h1v62h-1zM404 518h1v41h-1zM405 540h1v49h-1zM406 476h1v113h-1zM407 527h1v32h-1zM408 497h1v44h-1zM409 540h1v49h-1zM410 503h1v86h-1zM411 510h1v79h-1zM412 503h1v25h-1zM413 510h1v49h-1zM414 518h1v71h-1zM415 497h1v62h-1zM416 518h1v41h-1zM417 497h2v62h-2zM419 503h1v25h-1zM420 503h1v86h-1zM421 503h1v56h-1zM422 518h1v41h-1zM423 503h2v56h-2zM425 518h1v41h-1zM426 510h1v49h-1zM427 527h1v14h-1zM428 492h1v49h-1zM429 497h1v62h-1zM430 510h1v49h-1zM431 510h1v18h-1zM432 492h1v49h-1zM433 492h1v67h-1zM434 503h1v56h-1zM435 510h2v49h-2zM437 503h1v38h-1zM438 503h1v56h-1zM439 518h1v23h-1zM440 518h1v41h-1zM441 497h1v62h-1zM442 503h1v38h-1zM443 503h1v86h-1zM444 497h1v92h-1zM445 518h2v41h-2zM447 510h2v79h-2zM449 375h1v166h-1zM450 105h1v271h-1zM451 105h1v59h-1zM452 163h1v61h-1zM453 223h1v60h-1zM454 282h1v59h-1zM455 340h1v58h-1zM456 397h1v51h-1zM457 447h1v51h-1zM458 492h1v67h-1zM459 518h1v71h-1zM460 527h1v62h-1zM461 510h1v79h-1zM462 540h1v49h-1zM463 540h1v79h-1zM464 558h1v31h-1zM465 540h1v49h-1zM466 540h1v79h-1zM467 558h1v61h-1zM468 588h2v31h-2zM470 527h1v62h-1zM471 558h1v61h-1zM472 588h1v31h-1zM473 540h1v79h-1zM474 588h4v31h-4zM478 619h1v1h-1zM479 588h3v31h-3zM482 619h2v1h-2zM484 558h1v61h-1zM485 619h1v1h-1zM486 588h1v31h-1zM487 619h1v1h-1zM488 464h1v155h-1zM489 619h760v1h-760z" fill="#00ff00"/>
<path d="M156 91h1v528h-1zM157 91h1v1h-1zM158 91h1v55h-1zM159 97h1v9h-1zM160 105h1v9h-1zM161 113h1v9h-1zM162 121h1v9h-1zM163 129h1v9h-1zM164 137h1v9h-1zM165 145h1v9h-1zM166 153h1v8h-1zM167 160h1v8h-1zM168 167h1v9h-1zM169 175h1v9h-1zM170 113h1v71h-1zM171 113h1v86h-1zM172 198h1v3h-1zM173 200h1v2h-1zM174 201h2v2h-2zM176 202h1v2h-1zM177 203h1v2h-1zM178 203h1v6h-1zM179 208h1v5h-1zM180 212h1v4h-1zM181 215h1v5h-1zM182 218h1v7h-1zM183 224h1v7h-1zM184 230h1v7h-1zM185 236h1v5h-1zM186 239h1v4h-1zM187 242h1v6h-1zM188 247h1v2h-1zM189 243h1v5h-1zM190 240h1v4h-1zM191 235h1v6h-1zM192 232h1v4h-1zM193 232h1v3h-1zM194 233h1v3h-1zM195 232h1v3h-1zM196 232h1v17h-1zM197 248h1v15h-1zM198 261h1v5h-1zM199 265h1v8h-1zM200 272h1v5h-1zM201 275h1v5h-1zM202 279h1v5h-1zM203 281h1v6h-1zM204 284h1v5h-1zM205 287h1v7h-1zM206 292h1v6h-1zM207 296h1v5h-1zM208 298h1v5h-1zM209 301h1v5h-1zM210 303h1v3h-1zM211 302h1v8h-1zM212 303h1v8h-1zM213 305h1v9h-1zM214 310h1v5h-1zM215 311h1v4h-1zM216 311h1v5h-1zM217 314h1v4h-1zM218 313h1v6h-1zM219 317h1v6h-1zM220 318h1v6h-1zM221 318h1v8h-1zM222 318h1v7h-1zM223 322h1v6h-1zM224 318h1v7h-1zM225 318h1v2h-1zM226 319h1v10h-1zM227 323h1v8h-1zM228 327h1v10h-1zM229 333h1v5h-1zM230 337h1v12h-1zM231 344h1v8h-1zM232 348h1v9h-1zM233 347h1v8h-1zM234 348h1v7h-1zM235 346h1v7h-1zM236 346h1v6h-1zM237 347h1v13h-1zM238 351h1v9h-1zM239 350h1v8h-1zM240 350h1v13h-1zM241 356h1v8h-1zM242 358h1v16h-1zM243 360h1v9h-1zM244 354h1v14h-1zM245 359h1v10h-1zM246 360h1v14h-1zM247 367h2v6h-2zM249 369h1v11h-1zM250 361h1v22h-1zM251 365h1v18h-1zM252 376h1v10h-1zM253 375h1v5h-1zM254 375h1v10h-1zM255 375h1v13h-1zM256 379h1v8h-1zM257 379h1v14h-1zM258 377h1v9h-1zM259 379h1v10h-1zM260 378h1v12h-1zM261 378h1v14h-1zM262 384h1v8h-1zM263 387h1v6h-1zM264 384h2v15h-2zM266 387h1v14h-1zM267 391h1v13h-1zM268 393h1v12h-1zM269 393h1v22h-1zM270 397h1v19h-1zM271 392h1v17h-1zM272 400h1v11h-1zM273 398h1v4h-1zM274 392h1v23h-1zM275 392h1v15h-1zM276 397h2v19h-2zM278 400h1v21h-1zM279 400h1v16h-1zM280 403h1v22h-1zM281 403h1v8h-1zM282 407h1v17h-1zM283 403h1v22h-1zM284 408h1v18h-1zM285 417h1v12h-1zM286 415h2v21h-2zM288 421h1v16h-1zM289 416h1v20h-1zM290 418h1v15h-1zM291 418h1v22h-1zM292 412h1v34h-1zM293 419h1v17h-1zM294 420h1v16h-1zM295 422h1v14h-1zM296 426h1v12h-1zM297 428h2v10h-2zM299 430h1v23h-1zM300 427h1v26h-1zM301 433h1v15h-1zM302 435h1v18h-1zM303 430h1v30h-1zM304 431h1v19h-1zM305 437h1v16h-1zM306 435h1v35h-1zM307 435h1v23h-1zM308 436h1v24h-1zM309 439h1v21h-1zM310 439h1v23h-1zM311 443h1v10h-1zM312 439h1v12h-1zM313 439h1v31h-1zM314 435h1v20h-1zM315 435h1v27h-1zM316 449h1v16h-1zM317 450h1v20h-1zM318 443h1v15h-1zM319 435h1v30h-1zM320 440h1v33h-1zM321 452h1v15h-1zM322 442h1v28h-1zM323 439h1v21h-1zM324 440h1v30h-1zM325 445h1v25h-1zM326 457h1v20h-1zM327 445h1v32h-1zM328 459h1v6h-1zM329 457h1v23h-1zM330 449h1v24h-1zM331 449h1v39h-1zM332 449h1v24h-1zM333 452h1v13h-1zM334 450h1v20h-1zM335 461h1v50h-1zM336 449h1v31h-1zM337 450h1v34h-1zM338 459h1v25h-1zM339 452h1v18h-1zM340 452h1v28h-1zM341 457h1v23h-1zM342 452h1v25h-1zM343 466h1v14h-1zM344 452h1v32h-1zM345 452h1v21h-1zM346 459h1v18h-1zM347 452h1v41h-1zM348 466h1v32h-1zM349 461h1v27h-1zM350 466h1v27h-1zM351 466h1v18h-1zM352 464h1v20h-1zM353 447h1v57h-1zM354 461h1v43h-1zM355 454h1v39h-1zM356 461h2v43h-2zM358 472h1v21h-1zM359 476h1v43h-1zM360 459h1v29h-1zM361 469h1v42h-1zM362 450h1v78h-1zM363 466h1v27h-1zM364 483h1v10h-1zM365 472h1v26h-1zM366 487h1v32h-1zM367 461h2v58h-2zM369 464h1v34h-1zM370 469h1v35h-1zM371 472h1v21h-1zM372 476h1v28h-1zM373 469h1v42h-1zM374 469h1v50h-1zM375 461h1v50h-1zM376 472h1v32h-1zM377 466h1v38h-1zM378 459h1v52h-1zM379 466h1v32h-1zM380 472h1v21h-1zM381 469h1v24h-1zM382 472h1v16h-1zM383 472h1v39h-1zM384 483h1v15h-1zM385 483h1v28h-1zM386 479h1v25h-1zM387 466h1v53h-1zM388 487h1v32h-1zM389 464h1v64h-1zM390 459h1v69h-1zM391 459h1v52h-1zM392 476h1v35h-1zM393 472h1v87h-1zM394 469h1v90h-1zM395 479h1v19h-1zM396 483h1v10h-1zM397 483h1v15h-1zM398 464h1v24h-1zM399 476h1v17h-1zM400 479h1v32h-1zM401 476h1v17h-1zM402 476h1v35h-1zM403 469h1v50h-1zM404 472h1v21h-1zM405 457h1v36h-1zM406 476h1v43h-1zM407 476h1v35h-1zM408 487h1v24h-1zM409 479h1v62h-1zM410 479h1v32h-1zM411 472h1v56h-1zM412 487h1v41h-1zM413 472h1v32h-1zM414 483h1v10h-1zM415 492h1v12h-1zM416 487h1v41h-1zM417 479h1v25h-1zM418 472h1v39h-1zM419 472h1v47h-1zM420 483h1v45h-1zM421 487h1v11h-1zM422 476h1v35h-1zM423 466h1v62h-1zM424 476h1v17h-1zM425 464h1v47h-1zM426 476h1v28h-1zM427 464h1v40h-1zM428 472h1v21h-1zM429 472h1v69h-1zM430 479h1v19h-1zM431 479h1v40h-1zM432 483h1v21h-1zM433 466h1v53h-1zM434 466h1v27h-1zM435 483h1v36h-1zM436 476h1v43h-1zM437 476h1v52h-1zM438 476h1v28h-1zM439 487h1v17h-1zM440 476h1v43h-1zM441 487h1v17h-1zM442 476h1v22h-1zM443 479h1v19h-1zM444 368h1v120h-1zM445 103h1v266h-1zM446 103h1v59h-1zM447 161h1v61h-1zM448 221h1v60h-1zM449 280h1v52h-1zM450 331h1v58h-1zM451 388h1v60h-1zM452 433h1v60h-1zM453 476h1v43h-1zM454 476h1v52h-1zM455 497h1v44h-1zM456 518h2v41h-2zM458 527h2v32h-2zM460 518h2v71h-2zM462 527h1v62h-1zM463 540h1v79h-1zM464 527h1v32h-1zM465 540h1v49h-1zM466 518h1v101h-1zM467 540h2v49h-2zM469 558h3v61h-3zM472 558h1v31h-1zM473 558h1v61h-1zM474 588h2v31h-2zM476 558h2v61h-2zM478 588h3v31h-3zM481 558h1v61h-1zM482 588h2v31h-2zM484 558h1v61h-1zM485 419h1v200h-1zM486 619h763v1h-763z" fill="#0000ff"/>
<path d="M156 91h1v528h-1zM157 91h1v12h-1zM158 102h1v74h-1zM159 175h1v8h-1zM160 182h1v3h-1zM161 184h1v3h-1zM162 186h1v4h-1zM163 189h1v4h-1zM164 192h1v5h-1zM165 196h1v4h-1zM166 199h1v6h-1zM167 203h1v7h-1zM168 209h1v5h-1zM169 213h1v6h-1zM170 218h1v8h-1zM171 225h1v9h-1zM172 233h1v6h-1zM173 237h1v4h-1zM174 240h1v2h-1zM175 241h1v5h-1zM176 243h1v5h-1zM177 247h1v3h-1zM178 249h1v4h-1zM179 251h1v4h-1zM180 254h1v3h-1zM181 256h1v7h-1zM182 262h1v3h-1zM183 264h1v4h-1zM184 267h1v7h-1zM185 273h1v4h-1zM186 276h1v3h-1zM187 278h1v8h-1zM188 282h1v4h-1zM189 280h1v3h-1zM190 274h1v8h-1zM191 271h1v5h-1zM192 269h2v4h-2zM194 272h1v4h-1zM195 275h1v4h-1zM196 278h1v10h-1zM197 287h1v16h-1zM198 302h1v12h-1zM199 313h1v2h-1zM200 313h1v7h-1zM201 318h1v5h-1zM202 321h1v5h-1zM203 324h1v6h-1zM204 325h1v6h-1zM205 328h1v14h-1zM206 337h1v10h-1zM207 343h1v8h-1zM208 345h1v5h-1zM209 342h1v8h-1zM210 347h1v6h-1zM211 348h1v5h-1zM212 348h1v7h-1zM213 347h1v11h-1zM214 352h1v6h-1zM215 353h1v4h-1zM216 353h1v6h-1zM217 353h1v12h-1zM218 358h1v16h-1zM219 359h1v15h-1zM220 365h1v7h-1zM221 367h1v13h-1zM222 369h1v11h-1zM223 370h1v7h-1zM224 363h1v11h-1zM225 361h1v9h-1zM226 361h1v8h-1zM227 362h1v6h-1zM228 366h1v12h-1zM229 374h1v8h-1zM230 374h1v17h-1zM231 378h1v21h-1zM232 385h1v14h-1zM233 385h1v13h-1zM234 379h1v19h-1zM235 388h1v7h-1zM236 375h1v24h-1zM237 382h1v15h-1zM238 390h1v7h-1zM239 391h1v13h-1zM240 396h1v8h-1zM241 396h1v6h-1zM242 389h1v20h-1zM243 403h1v11h-1zM244 391h1v16h-1zM245 391h1v18h-1zM246 393h1v19h-1zM247 403h1v15h-1zM248 402h1v19h-1zM249 402h1v14h-1zM250 405h1v21h-1zM251 414h1v12h-1zM252 411h1v15h-1zM253 418h1v18h-1zM254 415h1v12h-1zM255 411h1v21h-1zM256 413h1v24h-1zM257 424h1v19h-1zM258 421h1v16h-1zM259 419h1v18h-1zM260 419h1v21h-1zM261 430h1v10h-1zM262 425h1v12h-1zM263 426h1v8h-1zM264 427h1v17h-1zM265 427h1v24h-1zM266 427h1v21h-1zM267 424h1v31h-1zM268 432h1v23h-1zM269 432h1v26h-1zM270 433h1v27h-1zM271 443h1v27h-1zM272 433h1v40h-1zM273 437h1v36h-1zM274 437h1v21h-1zM275 452h1v8h-1zM276 447h1v11h-1zM277 449h1v9h-1zM278 440h1v37h-1zM279 440h1v22h-1zM280 449h1v24h-1zM281 443h1v22h-1zM282 437h1v33h-1zM283 459h1v21h-1zM284 452h1v21h-1zM285 449h1v24h-1zM286 457h1v27h-1zM287 457h1v10h-1zM288 457h1v16h-1zM289 457h1v13h-1zM290 457h1v36h-1zM291 450h1v43h-1zM292 466h1v22h-1zM293 461h1v23h-1zM294 472h1v16h-1zM295 466h1v22h-1zM296 466h1v18h-1zM297 457h1v27h-1zM298 461h1v32h-1zM299 459h1v18h-1zM300 469h1v19h-1zM301 479h1v25h-1zM302 454h1v44h-1zM303 464h1v20h-1zM304 469h1v19h-1zM305 472h1v39h-1zM306 479h1v19h-1zM307 466h1v32h-1zM308 466h1v53h-1zM309 464h1v29h-1zM310 466h1v27h-1zM311 483h1v21h-1zM312 479h1v19h-1zM313 464h1v47h-1zM314 483h1v28h-1zM315 479h1v49h-1zM316 464h1v64h-1zM317 466h1v38h-1zM318 466h1v32h-1zM319 483h1v28h-1zM320 466h1v22h-1zM321 464h1v55h-1zM322 464h1v34h-1zM323 476h1v35h-1zM324 479h1v40h-1zM325 464h1v47h-1zM326 469h1v19h-1zM327 476h1v22h-1zM328 483h1v58h-1zM329 476h1v35h-1zM330 472h1v26h-1zM331 466h1v32h-1zM332 487h1v32h-1zM333 479h1v14h-1zM334 466h1v38h-1zM335 476h1v28h-1zM336 487h1v17h-1zM337 479h1v49h-1zM338 469h1v42h-1zM339 476h1v35h-1zM340 476h1v65h-1zM341 469h1v50h-1zM342 497h1v22h-1zM343 487h1v17h-1zM344 472h1v26h-1zM345 469h1v35h-1zM346 469h2v50h-2zM348 466h2v45h-2zM350 479h1v32h-1zM351 487h1v54h-1zM352 479h1v19h-1zM353 487h1v41h-1zM354 479h1v62h-1zM355 487h1v41h-1zM356 503h1v25h-1zM357 492h1v36h-1zM358 483h1v106h-1zM359 492h1v97h-1zM360 503h1v25h-1zM361 479h1v40h-1zM362 479h2v62h-2zM364 487h1v54h-1zM365 487h1v41h-1zM366 492h1v36h-1zM367 497h1v7h-1zM368 487h1v54h-1zM369 487h2v32h-2zM371 497h1v31h-1zM372 510h1v49h-1zM373 487h1v72h-1zM374 492h1v67h-1zM375 492h1v36h-1zM376 510h2v18h-2zM378 492h1v36h-1zM379 510h1v109h-1zM380 479h1v140h-1zM381 503h2v38h-2zM383 497h1v31h-1zM384 497h1v62h-1zM385 497h1v92h-1zM386 510h2v31h-2zM388 527h1v32h-1zM389 497h1v31h-1zM390 497h1v62h-1zM391 510h1v31h-1zM392 487h2v72h-2zM394 503h1v86h-1zM395 503h1v25h-1zM396 510h1v49h-1zM397 510h1v18h-1zM398 503h1v86h-1zM399 518h1v71h-1zM400 510h1v49h-1zM401 497h1v122h-1zM402 518h1v101h-1zM403 497h1v92h-1zM404 497h1v31h-1zM405 527h1v32h-1zM406 503h2v56h-2zM408 527h1v62h-1zM409 492h1v127h-1zM410 497h1v122h-1zM411 510h1v79h-1zM412 497h1v44h-1zM413 483h1v106h-1zM414 518h1v101h-1zM415 503h1v56h-1zM416 510h1v31h-1zM417 503h1v38h-1zM418 503h1v56h-1zM419 503h1v25h-1zM420 518h1v10h-1zM421 497h1v62h-1zM422 518h1v41h-1zM423 510h1v79h-1zM424 518h1v23h-1zM425 503h1v38h-1zM426 510h1v31h-1zM427 503h1v38h-1zM428 510h1v49h-1zM429 527h1v32h-1zM430 497h1v31h-1zM431 497h1v62h-1zM432 510h1v79h-1zM433 518h1v10h-1zM434 527h1v92h-1zM435 492h1v36h-1zM436 492h1v97h-1zM437 492h1v67h-1zM438 510h1v49h-1zM439 503h1v116h-1zM440 518h1v41h-1zM441 503h2v38h-2zM443 503h2v56h-2zM445 503h1v86h-1zM446 483h1v106h-1zM447 492h1v49h-1zM448 497h1v62h-1zM449 518h1v71h-1zM450 487h1v54h-1zM451 518h1v41h-1zM452 518h1v10h-1zM453 510h1v49h-1zM454 503h1v116h-1zM455 510h1v49h-1zM456 497h1v62h-1zM457 503h1v86h-1zM458 483h1v58h-1zM459 492h1v127h-1zM460 510h1v18h-1zM461 503h1v38h-1zM462 503h1v56h-1zM463 510h1v79h-1zM464 492h1v67h-1zM465 510h1v49h-1zM466 483h1v76h-1zM467 239h1v245h-1zM468 102h1v138h-1zM469 131h1v60h-1zM470 190h1v59h-1zM471 248h1v59h-1zM472 306h1v54h-1zM473 359h1v77h-1zM474 435h1v49h-1zM475 479h1v49h-1zM476 518h1v41h-1zM477 540h1v19h-1zM478 527h2v92h-2zM480 558h1v31h-1zM481 558h3v61h-3zM484 518h1v101h-1zM485 588h1v31h-1zM486 540h1v79h-1zM487 558h4v61h-4zM491 588h1v31h-1zM492 558h3v61h-3zM495 588h4v31h-4zM499 558h1v61h-1zM500 588h2v31h-2zM502 619h1v1h-1zM503 588h3v31h-3zM506 619h4v1h-4zM510 588h1v31h-1zM511 619h1v1h-1zM512 472h2v147h-2zM514 619h735v1h-735z" fill="#ffff00"/>
<path d="M156 92h1v527h-1zM157 92h1v88h-1zM158 96h1v85h-1zM159 98h1v9h-1zM160 106h1v9h-1zM161 114h1v9h-1zM162 122h1v9h-1zM163 130h1v9h-1zM164 138h1v8h-1zM165 145h1v8h-1zM166 152h1v8h-1zM167 159h1v9h-1zM168 167h1v8h-1zM169 174h1v8h-1zM170 114h1v68h-1zM171 114h1v84h-1zM172 197h1v3h-1zM173 199h2v2h-2zM175 200h2v2h-2zM177 201h1v2h-1zM178 202h1v4h-1zM179 205h1v7h-1zM180 211h1v4h-1zM181 214h1v4h-1zM182 217h1v6h-1zM183 221h1v8h-1zM184 228h1v8h-1zM185 234h1v5h-1zM186 236h1v6h-1zM187 241h1v6h-1zM188 244h1v3h-1zM189 241h1v4h-1zM190 238h1v4h-1zM191 234h1v5h-1zM192 230h1v5h-1zM193 230h1v3h-1zM194 231h1v3h-1zM195 230h1v3h-1zM196 231h1v16h-1zM197 246h1v13h-1zM198 258h1v8h-1zM199 263h1v9h-1zM200 270h1v4h-1zM201 273h1v8h-1zM202 278h1v6h-1zM203 282h1v3h-1zM204 283h1v4h-1zM205 286h1v5h-1zM206 290h1v8h-1zM207 295h1v3h-1zM208 297h1v7h-1zM209 301h1v3h-1zM210 300h1v5h-1zM211 301h1v6h-1zM212 303h1v4h-1zM213 303h1v7h-1zM214 305h1v7h-1zM215 309h1v5h-1zM216 309h1v7h-1zM217 311h1v4h-1zM218 313h1v3h-1zM219 312h1v4h-1zM220 312h1v8h-1zM221 316h1v6h-1zM222 317h1v6h-1zM223 320h1v3h-1zM224 318h1v4h-1zM225 316h1v6h-1zM226 316h1v8h-1zM227 323h1v11h-1zM228 325h1v9h-1zM229 330h1v11h-1zM230 339h1v6h-1zM231 343h1v7h-1zM232 345h2v9h-2zM234 346h1v4h-1zM235 345h1v8h-1zM236 345h1v7h-1zM237 345h1v10h-1zM238 348h1v10h-1zM239 347h1v15h-1zM240 349h1v10h-1zM241 355h1v8h-1zM242 360h1v8h-1zM243 361h1v7h-1zM244 359h1v9h-1zM245 363h1v6h-1zM246 357h1v13h-1zM247 364h1v6h-1zM248 362h1v7h-1zM249 365h1v10h-1zM250 369h1v6h-1zM251 370h2v7h-2zM253 370h1v13h-1zM254 372h1v8h-1zM255 375h1v10h-1zM256 377h2v16h-2zM258 379h1v9h-1zM259 377h1v13h-1zM260 380h1v11h-1zM261 381h1v10h-1zM262 381h1v8h-1zM263 382h1v10h-1zM264 382h1v12h-1zM265 388h1v5h-1zM266 389h1v10h-1zM267 387h1v12h-1zM268 397h1v6h-1zM269 395h1v7h-1zM270 389h1v16h-1zM271 397h1v15h-1zM272 396h1v10h-1zM273 401h1v9h-1zM274 392h1v17h-1zM275 392h1v22h-1zM276 403h1v13h-1zM277 399h1v17h-1zM278 403h1v22h-1zM279 405h1v20h-1zM280 403h1v11h-1zM281 400h1v13h-1zM282 405h1v10h-1zM283 410h1v5h-1zM284 411h1v12h-1zM285 413h1v15h-1zM286 406h1v22h-1zM287 406h1v21h-1zM288 412h1v16h-1zM289 427h1v14h-1zM290 417h1v24h-1zM291 417h1v17h-1zM292 421h1v7h-1zM293 421h1v15h-1zM294 417h1v21h-1zM295 419h1v15h-1zM296 427h1v21h-1zM297 422h1v26h-1zM298 425h1v23h-1zM299 427h1v14h-1zM300 423h1v21h-1zM301 430h1v23h-1zM302 428h1v23h-1zM303 428h1v20h-1zM304 436h1v8h-1zM305 428h1v20h-1zM306 447h1v6h-1zM307 431h1v29h-1zM308 442h1v18h-1zM309 435h1v18h-1zM310 433h1v22h-1zM311 433h1v13h-1zM312 443h1v30h-1zM313 449h1v21h-1zM314 427h1v38h-1zM315 450h1v12h-1zM316 443h1v19h-1zM317 447h1v13h-1zM318 447h1v15h-1zM319 445h1v22h-1zM320 449h1v18h-1zM321 459h1v8h-1zM322 445h1v15h-1zM323 447h1v11h-1zM324 454h1v19h-1zM325 459h1v11h-1zM326 445h1v22h-1zM327 450h1v27h-1zM328 443h1v22h-1zM329 449h1v9h-1zM330 445h1v28h-1zM331 445h1v13h-1zM332 450h1v15h-1zM333 457h1v27h-1zM334 452h1v36h-1zM335 454h1v34h-1zM336 447h1v41h-1zM337 449h1v70h-1zM338 461h1v58h-1zM339 452h1v25h-1zM340 449h1v62h-1zM341 449h1v28h-1zM342 454h1v16h-1zM343 450h1v30h-1zM344 461h1v12h-1zM345 450h1v23h-1zM346 461h1v27h-1zM347 452h1v28h-1zM348 452h1v46h-1zM349 452h1v36h-1zM350 459h1v25h-1zM351 452h1v76h-1zM352 461h1v32h-1zM353 466h1v27h-1zM354 466h1v32h-1zM355 464h1v40h-1zM356 450h1v54h-1zM357 450h1v34h-1zM358 454h1v34h-1zM359 459h1v45h-1zM360 459h1v29h-1zM361 466h1v27h-1zM362 472h1v21h-1zM363 476h1v12h-1zM364 466h1v27h-1zM365 469h1v29h-1zM366 452h1v32h-1zM367 472h1v26h-1zM368 466h1v32h-1zM369 466h1v22h-1zM370 464h1v34h-1zM371 461h1v23h-1zM372 466h1v45h-1zM373 469h1v42h-1zM374 483h1v28h-1zM375 483h1v36h-1zM376 487h1v32h-1zM377 466h1v32h-1zM378 472h1v21h-1zM379 472h1v16h-1zM380 483h1v28h-1zM381 479h1v25h-1zM382 479h1v32h-1zM383 464h1v34h-1zM384 472h1v32h-1zM385 483h1v28h-1zM386 464h1v40h-1zM387 483h1v21h-1zM388 476h1v28h-1zM389 476h1v22h-1zM390 479h1v40h-1zM391 483h1v21h-1zM392 472h1v26h-1zM393 483h1v15h-1zM394 472h1v26h-1zM395 479h1v19h-1zM396 479h1v40h-1zM397 469h1v50h-1zM398 476h1v28h-1zM399 479h1v25h-1zM400 469h1v24h-1zM401 469h1v50h-1zM402 483h1v36h-1zM403 483h1v21h-1zM404 469h1v35h-1zM405 479h1v49h-1zM406 479h1v32h-1zM407 497h1v22h-1zM408 476h1v43h-1zM409 479h1v40h-1zM410 466h1v14h-1zM411 464h1v55h-1zM412 464h1v24h-1zM413 476h1v17h-1zM414 487h2v32h-2zM416 479h1v40h-1zM417 476h1v28h-1zM418 483h1v36h-1zM419 479h1v9h-1zM420 479h1v40h-1zM421 466h1v32h-1zM422 466h1v22h-1zM423 469h1v50h-1zM424 469h1v90h-1zM425 476h1v83h-1zM426 483h1v21h-1zM427 472h2v39h-2zM429 472h1v32h-1zM430 487h1v24h-1zM431 469h1v42h-1zM432 487h1v17h-1zM433 483h1v21h-1zM434 472h2v47h-2zM436 466h1v45h-1zM437 476h1v35h-1zM438 483h1v45h-1zM439 479h1v40h-1zM440 466h1v27h-1zM441 469h1v59h-1zM442 487h1v24h-1zM443 483h1v28h-1zM444 469h1v42h-1zM445 483h1v28h-1zM446 472h1v26h-1zM447 483h1v45h-1zM448 464h1v64h-1zM449 469h1v19h-1zM450 476h1v35h-1zM451 476h1v28h-1zM452 483h1v28h-1zM453 483h1v36h-1zM454 464h1v34h-1zM455 487h1v102h-1zM456 469h1v120h-1zM457 476h1v17h-1zM458 483h1v28h-1zM459 479h1v32h-1zM460 464h1v47h-1zM461 464h1v34h-1zM462 246h1v238h-1zM463 108h1v139h-1zM464 137h1v59h-1zM465 195h1v58h-1zM466 252h1v62h-1zM467 313h1v57h-1zM468 369h1v62h-1zM469 430h1v37h-1zM470 466h1v18h-1zM471 483h1v76h-1zM472 497h1v62h-1zM473 527h2v62h-2zM475 503h1v86h-1zM476 518h1v41h-1zM477 510h1v79h-1zM478 518h1v71h-1zM479 518h1v41h-1zM480 518h1v71h-1zM481 510h1v79h-1zM482 558h1v61h-1zM483 527h1v62h-1zM484 540h1v49h-1zM485 558h2v61h-2zM487 527h2v92h-2zM489 588h1v31h-1zM490 558h1v61h-1zM491 588h7v31h-7zM498 558h1v61h-1zM499 434h1v185h-1zM500 619h749v1h-749z" fill="#ff00ff"/>
<path d="M156 92h1v527h-1zM157 92h1v12h-1zM158 103h1v74h-1zM159 176h1v8h-1zM160 183h1v4h-1zM161 184h1v4h-1zM162 187h1v4h-1zM163 190h1v3h-1zM164 192h1v4h-1zM165 195h1v6h-1zM166 200h1v6h-1zM167 204h1v5h-1zM168 208h1v7h-1zM169 214h1v5h-1zM170 218h1v8h-1zM171 225h1v9h-1zM172 233h1v3h-1zM173 235h1v4h-1zM174 238h1v6h-1zM175 242h1v2h-1zM176 243h1v4h-1zM177 244h1v6h-1zM178 249h1v4h-1zM179 252h1v2h-1zM180 253h1v6h-1zM181 257h1v6h-1zM182 260h1v5h-1zM183 264h1v7h-1zM184 270h1v4h-1zM185 272h1v5h-1zM186 274h1v7h-1zM187 278h1v9h-1zM188 282h1v5h-1zM189 279h1v8h-1zM190 276h1v4h-1zM191 272h1v6h-1zM192 268h1v6h-1zM193 268h1v4h-1zM194 270h1v7h-1zM195 275h1v6h-1zM196 279h1v6h-1zM197 284h1v22h-1zM198 305h1v8h-1zM199 305h1v10h-1zM200 314h1v4h-1zM201 314h1v9h-1zM202 319h1v6h-1zM203 319h1v9h-1zM204 325h1v13h-1zM205 333h1v7h-1zM206 336h1v5h-1zM207 340h1v9h-1zM208 341h1v8h-1zM209 341h1v12h-1zM210 347h1v5h-1zM211 346h1v7h-1zM212 348h1v11h-1zM213 353h1v6h-1zM214 349h1v9h-1zM215 348h1v10h-1zM216 354h1v6h-1zM217 354h1v10h-1zM218 356h1v15h-1zM219 359h1v7h-1zM220 365h1v6h-1zM221 370h1v6h-1zM222 371h1v11h-1zM223 369h1v13h-1zM224 366h1v13h-1zM225 360h1v8h-1zM226 353h1v12h-1zM227 357h1v11h-1zM228 361h1v14h-1zM229 371h1v5h-1zM230 374h1v15h-1zM231 382h1v12h-1zM232 387h1v10h-1zM233 386h1v14h-1zM234 386h1v9h-1zM235 386h1v12h-1zM236 380h1v21h-1zM237 387h1v19h-1zM238 393h1v13h-1zM239 388h1v10h-1zM240 390h1v14h-1zM241 396h1v5h-1zM242 391h1v11h-1zM243 392h1v10h-1zM244 397h1v12h-1zM245 395h1v16h-1zM246 402h1v9h-1zM247 400h1v15h-1zM248 405h1v18h-1zM249 400h1v19h-1zM250 401h1v14h-1zM251 412h1v7h-1zM252 414h1v6h-1zM253 408h1v16h-1zM254 415h1v9h-1zM255 415h1v17h-1zM256 421h1v8h-1zM257 415h1v25h-1zM258 415h1v17h-1zM259 427h1v6h-1zM260 424h1v9h-1zM261 427h1v7h-1zM262 423h1v14h-1zM263 418h1v18h-1zM264 428h1v15h-1zM265 422h1v24h-1zM266 422h1v29h-1zM267 436h1v15h-1zM268 427h1v38h-1zM269 427h1v24h-1zM270 426h1v24h-1zM271 437h1v23h-1zM272 435h1v27h-1zM273 433h1v40h-1zM274 433h1v25h-1zM275 436h1v26h-1zM276 443h1v19h-1zM277 443h1v22h-1zM278 442h1v20h-1zM279 457h1v20h-1zM280 437h1v40h-1zM281 443h1v15h-1zM282 435h1v38h-1zM283 445h1v32h-1zM284 440h1v27h-1zM285 440h1v25h-1zM286 459h1v34h-1zM287 450h1v23h-1zM288 447h1v33h-1zM289 449h1v31h-1zM290 449h1v24h-1zM291 450h1v54h-1zM292 447h1v41h-1zM293 449h1v39h-1zM294 459h1v11h-1zM295 459h1v34h-1zM296 461h1v50h-1zM297 466h1v45h-1zM298 466h1v27h-1zM299 464h1v29h-1zM300 479h1v14h-1zM301 472h1v32h-1zM302 466h1v18h-1zM303 476h1v52h-1zM304 472h1v56h-1zM305 457h1v41h-1zM306 469h1v35h-1zM307 461h1v27h-1zM308 461h1v67h-1zM309 479h1v9h-1zM310 479h2v40h-2zM312 476h1v22h-1zM313 464h1v47h-1zM314 466h1v45h-1zM315 466h1v38h-1zM316 483h1v28h-1zM317 469h1v42h-1zM318 479h1v25h-1zM319 472h1v32h-1zM320 476h1v28h-1zM321 469h1v42h-1zM322 461h1v23h-1zM323 461h1v37h-1zM324 487h1v32h-1zM325 479h1v40h-1zM326 472h1v26h-1zM327 479h1v32h-1zM328 479h1v49h-1zM329 479h1v14h-1zM330 457h1v71h-1zM331 479h1v40h-1zM332 472h1v32h-1zM333 476h1v35h-1zM334 483h1v28h-1zM335 466h1v27h-1zM336 461h1v43h-1zM337 461h1v58h-1zM338 472h1v47h-1zM339 472h1v69h-1zM340 483h2v36h-2zM342 479h1v19h-1zM343 483h2v28h-2zM345 487h1v17h-1zM346 464h2v55h-2zM348 487h1v24h-1zM349 483h1v45h-1zM350 492h1v27h-1zM351 497h1v44h-1zM352 497h1v31h-1zM353 487h1v32h-1zM354 492h1v27h-1zM355 479h1v32h-1zM356 479h1v49h-1zM357 492h1v36h-1zM358 492h1v49h-1zM359 483h1v58h-1zM360 479h1v32h-1zM361 483h1v45h-1zM362 497h2v31h-2zM364 483h1v36h-1zM365 479h1v62h-1zM366 510h1v31h-1zM367 487h1v41h-1zM368 476h1v65h-1zM369 497h3v44h-3zM372 510h1v31h-1zM373 503h1v25h-1zM374 492h1v36h-1zM375 510h1v49h-1zM376 492h1v49h-1zM377 497h2v44h-2zM379 518h1v41h-1zM380 497h1v62h-1zM381 492h1v67h-1zM382 492h1v49h-1zM383 497h1v62h-1zM384 492h1v67h-1zM385 518h1v41h-1zM386 487h1v72h-1zM387 518h1v23h-1zM388 510h1v18h-1zM389 503h1v25h-1zM390 492h1v36h-1zM391 510h2v49h-2zM393 510h1v31h-1zM394 503h1v56h-1zM395 510h2v79h-2zM397 487h1v54h-1zM398 497h3v92h-3zM401 510h1v49h-1zM402 503h1v86h-1zM403 497h1v44h-1zM404 503h1v38h-1zM405 518h1v101h-1zM406 510h2v49h-2zM408 503h1v86h-1zM409 518h1v71h-1zM410 503h1v56h-1zM411 527h1v92h-1zM412 503h2v86h-2zM414 497h1v62h-1zM415 518h1v41h-1zM416 503h1v86h-1zM417 492h1v97h-1zM418 510h1v31h-1zM419 510h1v18h-1zM420 380h1v148h-1zM421 105h1v276h-1zM422 105h1v60h-1zM423 164h1v60h-1zM424 223h1v60h-1zM425 282h1v63h-1zM426 344h1v56h-1zM427 399h1v59h-1zM428 457h1v54h-1zM429 472h1v87h-1zM430 497h1v92h-1zM431 527h1v62h-1zM432 518h1v41h-1zM433 527h1v92h-1zM434 540h1v79h-1zM435 527h2v92h-2zM437 540h1v79h-1zM438 558h1v61h-1zM439 588h1v31h-1zM440 558h1v61h-1zM441 588h1v31h-1zM442 558h3v61h-3zM445 588h1v31h-1zM446 558h2v61h-2zM448 588h1v31h-1zM449 558h2v61h-2zM451 588h1v31h-1zM452 540h1v79h-1zM453 558h2v61h-2zM455 588h2v31h-2zM457 455h1v164h-1zM458 619h791v1h-791z" fill="#00ffff"/>
<path d="M156 92h1v527h-1zM157 92h1v1h-1zM158 92h1v92h-1zM159 98h1v9h-1zM160 106h1v9h-1zM161 114h1v9h-1zM162 122h1v9h-1zM163 130h1v9h-1zM164 138h1v9h-1zM165 146h1v7h-1zM166 152h1v8h-1zM167 159h1v9h-1zM168 167h1v7h-1zM169 173h1v9h-1zM170 114h1v68h-1zM171 114h1v84h-1zM172 197h1v3h-1zM173 199h1v2h-1zM174 199h1v3h-1zM175 201h2v2h-2zM177 201h1v3h-1zM178 203h1v6h-1zM179 207h1v4h-1zM180 210h1v5h-1zM181 214h1v5h-1zM182 218h1v4h-1zM183 221h1v8h-1zM184 228h1v7h-1zM185 234h1v5h-1zM186 238h1v5h-1zM187 242h1v6h-1zM188 244h1v4h-1zM189 243h1v3h-1zM190 238h1v6h-1zM191 233h1v6h-1zM192 232h1v3h-1zM193 231h2v3h-2zM195 231h1v2h-1zM196 232h1v16h-1zM197 247h1v15h-1zM198 261h1v4h-1zM199 264h1v7h-1zM200 270h1v6h-1zM201 275h1v5h-1zM202 279h1v4h-1zM203 280h1v4h-1zM204 283h1v6h-1zM205 286h1v6h-1zM206 288h1v7h-1zM207 294h1v7h-1zM208 297h1v6h-1zM209 297h1v8h-1zM210 302h1v5h-1zM211 302h1v4h-1zM212 303h1v4h-1zM213 304h1v4h-1zM214 307h1v6h-1zM215 306h1v11h-1zM216 309h1v6h-1zM217 312h2v6h-2zM219 314h1v8h-1zM220 315h1v8h-1zM221 320h1v3h-1zM222 320h1v7h-1zM223 319h1v8h-1zM224 318h1v5h-1zM225 315h1v6h-1zM226 319h1v7h-1zM227 322h1v11h-1zM228 326h1v8h-1zM229 329h1v8h-1zM230 336h1v9h-1zM231 344h1v11h-1zM232 342h1v13h-1zM233 349h1v6h-1zM234 349h1v5h-1zM235 345h1v9h-1zM236 347h1v10h-1zM237 346h1v10h-1zM238 348h1v8h-1zM239 351h1v9h-1zM240 352h1v8h-1zM241 352h1v10h-1zM242 357h1v6h-1zM243 362h1v7h-1zM244 359h1v10h-1zM245 358h1v9h-1zM246 362h1v11h-1zM247 364h1v6h-1zM248 366h1v5h-1zM249 363h1v9h-1zM250 365h1v10h-1zM251 368h1v13h-1zM252 373h1v9h-1zM253 379h1v7h-1zM254 372h1v10h-1zM255 371h1v16h-1zM256 371h1v15h-1zM257 376h1v10h-1zM258 376h1v14h-1zM259 380h1v10h-1zM260 376h1v15h-1zM261 382h1v8h-1zM262 377h1v12h-1zM263 384h1v23h-1zM264 382h1v12h-1zM265 380h1v21h-1zM266 393h1v8h-1zM267 387h1v15h-1zM268 392h1v13h-1zM269 387h1v14h-1zM270 392h1v10h-1zM271 392h1v20h-1zM272 392h1v14h-1zM273 396h1v13h-1zM274 395h2v14h-2zM276 404h1v14h-1zM277 398h1v21h-1zM278 408h1v11h-1zM279 408h1v6h-1zM280 400h1v17h-1zM281 400h1v16h-1zM282 410h1v15h-1zM283 407h1v14h-1zM284 410h1v24h-1zM285 415h1v16h-1zM286 409h1v20h-1zM287 419h1v9h-1zM288 415h1v11h-1zM289 419h1v10h-1zM290 417h1v9h-1zM291 422h1v18h-1zM292 420h1v21h-1zM293 414h1v20h-1zM294 422h1v11h-1zM295 426h1v17h-1zM296 431h1v29h-1zM297 423h1v44h-1zM298 433h1v17h-1zM299 431h1v19h-1zM300 424h1v17h-1zM301 427h1v31h-1zM302 428h2v22h-2zM304 436h1v15h-1zM305 424h1v29h-1zM306 439h1v34h-1zM307 436h1v37h-1zM308 437h1v18h-1zM309 433h1v20h-1zM310 440h2v25h-2zM312 437h1v23h-1zM313 445h1v20h-1zM314 442h1v23h-1zM315 445h1v20h-1zM316 450h1v30h-1zM317 449h1v24h-1zM318 445h1v17h-1zM319 445h1v15h-1zM320 445h1v20h-1zM321 445h1v15h-1zM322 445h1v22h-1zM323 447h1v26h-1zM324 447h1v18h-1zM325 437h1v33h-1zM326 437h1v36h-1zM327 442h1v31h-1zM328 445h1v28h-1zM329 459h1v11h-1zM330 457h2v27h-2zM332 452h1v21h-1zM333 447h1v18h-1zM334 450h1v20h-1zM335 459h2v14h-2zM337 445h1v28h-1zM338 445h1v32h-1zM339 449h1v31h-1zM340 452h1v32h-1zM341 461h1v23h-1zM342 452h1v15h-1zM343 459h1v21h-1zM344 469h1v11h-1zM345 457h1v31h-1zM346 452h1v13h-1zM347 447h1v33h-1zM348 454h1v30h-1zM349 454h1v44h-1zM350 472h1v12h-1zM351 461h1v23h-1zM352 459h1v21h-1zM353 452h1v28h-1zM354 469h1v15h-1zM355 466h1v32h-1zM356 454h1v34h-1zM357 454h1v65h-1zM358 447h1v57h-1zM359 457h1v31h-1zM360 469h1v19h-1zM361 469h1v29h-1zM362 457h1v47h-1zM363 464h1v29h-1zM364 457h1v36h-1zM365 464h1v20h-1zM366 469h1v50h-1zM367 476h1v35h-1zM368 466h1v53h-1zM369 464h1v55h-1zM370 464h2v47h-2zM372 464h1v34h-1zM373 461h1v37h-1zM374 461h1v32h-1zM375 469h1v42h-1zM376 461h1v50h-1zM377 454h1v57h-1zM378 476h1v35h-1zM379 479h1v62h-1zM380 469h1v42h-1zM381 472h1v32h-1zM382 469h1v42h-1zM383 476h1v35h-1zM384 472h1v32h-1zM385 472h1v16h-1zM386 469h1v50h-1zM387 476h1v35h-1zM388 472h1v39h-1zM389 472h1v32h-1zM390 479h1v9h-1zM391 476h2v65h-2zM393 479h1v62h-1zM394 461h1v27h-1zM395 479h2v25h-2zM397 472h1v32h-1zM398 487h1v24h-1zM399 492h1v27h-1zM400 461h1v58h-1zM401 483h1v45h-1zM402 464h1v29h-1zM403 464h1v55h-1zM404 461h2v37h-2zM406 487h1v11h-1zM407 483h1v15h-1zM408 464h1v34h-1zM409 469h1v24h-1zM410 487h1v24h-1zM411 479h1v19h-1zM412 479h1v14h-1zM413 472h1v26h-1zM414 483h1v28h-1zM415 483h1v45h-1zM416 472h1v47h-1zM417 476h1v43h-1zM418 479h1v32h-1zM419 466h1v53h-1zM420 466h1v38h-1zM421 469h1v29h-1zM422 483h1v58h-1zM423 487h1v54h-1zM424 479h1v32h-1zM425 487h1v24h-1zM426 479h1v32h-1zM427 487h1v11h-1zM428 469h1v29h-1zM429 469h1v42h-1zM430 479h1v32h-1zM431 479h1v25h-1zM432 479h1v49h-1zM433 472h1v56h-1zM434 492h1v6h-1zM435 483h1v21h-1zM436 483h1v10h-1zM437 479h2v40h-2zM439 483h1v21h-1zM440 466h1v38h-1zM441 249h1v218h-1zM442 111h1v139h-1zM443 141h1v60h-1zM444 200h1v59h-1zM445 258h1v59h-1zM446 316h1v51h-1zM447 366h1v62h-1zM448 427h1v53h-1zM449 472h1v56h-1zM450 492h1v36h-1zM451 497h1v44h-1zM452 518h1v101h-1zM453 510h1v49h-1zM454 527h1v14h-1zM455 527h1v62h-1zM456 540h1v49h-1zM457 527h2v62h-2zM459 540h1v49h-1zM460 518h1v41h-1zM461 540h1v79h-1zM462 540h1v19h-1zM463 540h1v79h-1zM464 558h2v61h-2zM466 540h3v79h-3zM469 558h1v61h-1zM470 527h1v62h-1zM471 527h1v92h-1zM472 540h1v79h-1zM473 558h1v61h-1zM474 540h1v79h-1zM475 588h2v31h-2zM477 430h1v189h-1zM478 619h6v1h-6zM484 588h1v31h-1zM485 619h764v1h-764z" fill="#59d454"/>
<path d="M156 93h1v526h-1zM157 93h1v11h-1zM158 103h1v75h-1zM159 177h1v8h-1zM160 184h1v3h-1zM161 186h1v4h-1zM162 188h1v4h-1zM163 191h1v4h-1zM164 194h1v3h-1zM165 196h1v6h-1zM166 201h1v5h-1zM167 205h1v5h-1zM168 209h1v6h-1zM169 214h1v6h-1zM170 218h1v11h-1zM171 228h1v7h-1zM172 234h1v4h-1zM173 237h1v4h-1zM174 240h1v4h-1zM175 243h1v4h-1zM176 246h1v3h-1zM177 248h1v2h-1zM178 249h1v5h-1zM179 253h1v5h-1zM180 257h1v4h-1zM181 260h1v3h-1zM182 262h1v5h-1zM183 265h1v6h-1zM184 270h1v5h-1zM185 274h1v6h-1zM186 278h1v6h-1zM187 280h1v8h-1zM188 282h1v5h-1zM189 279h1v8h-1zM190 277h1v5h-1zM191 273h1v5h-1zM192 270h2v5h-2zM194 274h1v4h-1zM195 276h1v5h-1zM196 280h1v7h-1zM197 286h1v21h-1zM198 306h1v8h-1zM199 311h1v5h-1zM200 313h1v5h-1zM201 317h1v7h-1zM202 320h1v9h-1zM203 327h1v8h-1zM204 328h1v10h-1zM205 330h1v11h-1zM206 339h1v9h-1zM207 342h1v6h-1zM208 346h1v4h-1zM209 347h1v6h-1zM210 346h1v7h-1zM211 349h1v4h-1zM212 348h1v12h-1zM213 347h1v13h-1zM214 353h1v7h-1zM215 355h1v7h-1zM216 356h1v7h-1zM217 358h1v8h-1zM218 360h1v9h-1zM219 360h1v16h-1zM220 366h1v10h-1zM221 369h1v7h-1zM222 369h1v14h-1zM223 366h1v14h-1zM224 360h1v15h-1zM225 360h1v7h-1zM226 358h1v10h-1zM227 364h1v6h-1zM228 360h1v14h-1zM229 368h1v15h-1zM230 374h1v25h-1zM231 390h1v10h-1zM232 389h1v11h-1zM233 389h1v10h-1zM234 390h1v9h-1zM235 383h1v13h-1zM236 385h1v16h-1zM237 384h1v16h-1zM238 390h1v9h-1zM239 391h1v20h-1zM240 392h1v19h-1zM241 390h1v13h-1zM242 390h1v25h-1zM243 392h1v23h-1zM244 407h1v8h-1zM245 401h1v10h-1zM246 404h1v13h-1zM247 406h1v11h-1zM248 404h2v15h-2zM250 415h1v6h-1zM251 415h1v9h-1zM252 417h1v19h-1zM253 426h1v10h-1zM254 412h1v20h-1zM255 408h1v19h-1zM256 415h1v11h-1zM257 421h1v19h-1zM258 416h1v20h-1zM259 415h1v21h-1zM260 428h1v16h-1zM261 419h1v25h-1zM262 421h1v20h-1zM263 425h1v19h-1zM264 430h1v16h-1zM265 422h1v24h-1zM266 439h1v5h-1zM267 432h1v14h-1zM268 428h1v22h-1zM269 432h2v26h-2zM271 433h1v25h-1zM272 440h1v22h-1zM273 440h1v25h-1zM274 433h1v32h-1zM275 442h1v18h-1zM276 440h1v22h-1zM277 443h1v15h-1zM278 454h1v30h-1zM279 461h1v23h-1zM280 436h1v41h-1zM281 452h1v13h-1zM282 449h1v24h-1zM283 452h1v21h-1zM284 449h1v18h-1zM285 449h1v35h-1zM286 450h1v20h-1zM287 452h1v25h-1zM288 464h1v20h-1zM289 459h1v25h-1zM290 452h1v32h-1zM291 449h1v24h-1zM292 457h1v27h-1zM293 450h1v34h-1zM294 450h1v69h-1zM295 461h1v19h-1zM296 450h1v38h-1zM297 459h1v29h-1zM298 479h1v9h-1zM299 457h1v41h-1zM300 466h1v18h-1zM301 469h1v24h-1zM302 469h1v42h-1zM303 472h1v32h-1zM304 469h1v35h-1zM305 479h1v40h-1zM306 466h1v53h-1zM307 472h1v32h-1zM308 457h1v54h-1zM309 466h2v45h-2zM311 469h1v42h-1zM312 469h1v35h-1zM313 461h1v37h-1zM314 461h1v32h-1zM315 461h1v43h-1zM316 466h1v38h-1zM317 479h1v14h-1zM318 469h1v15h-1zM319 479h1v25h-1zM320 476h1v35h-1zM321 492h1v12h-1zM322 476h1v28h-1zM323 466h1v62h-1zM324 483h2v21h-2zM326 472h1v47h-1zM327 497h1v62h-1zM328 479h2v32h-2zM330 483h1v21h-1zM331 476h1v113h-1zM332 476h1v28h-1zM333 466h1v32h-1zM334 483h1v36h-1zM335 476h1v43h-1zM336 476h1v22h-1zM337 483h1v15h-1zM338 487h1v54h-1zM339 476h1v28h-1zM340 476h1v35h-1zM341 459h1v60h-1zM342 487h1v32h-1zM343 497h1v14h-1zM344 476h1v43h-1zM345 479h1v49h-1zM346 472h1v117h-1zM347 472h1v56h-1zM348 492h1v12h-1zM349 479h1v49h-1zM350 479h1v40h-1zM351 483h1v45h-1zM352 479h1v25h-1zM353 479h1v62h-1zM354 483h1v106h-1zM355 492h1v27h-1zM356 492h1v36h-1zM357 497h1v31h-1zM358 479h1v49h-1zM359 469h1v72h-1zM360 472h1v87h-1zM361 479h1v80h-1zM362 483h1v76h-1zM363 503h1v56h-1zM364 503h2v16h-2zM366 479h1v40h-1zM367 492h1v27h-1zM368 510h1v31h-1zM369 497h1v44h-1zM370 487h2v41h-2zM372 497h1v31h-1zM373 492h1v36h-1zM374 497h1v14h-1zM375 503h1v38h-1zM376 503h1v25h-1zM377 497h1v44h-1zM378 503h2v38h-2zM380 518h1v71h-1zM381 510h1v49h-1zM382 510h1v79h-1zM383 540h1v79h-1zM384 510h1v49h-1zM385 497h1v44h-1zM386 527h1v32h-1zM387 510h1v31h-1zM388 492h1v97h-1zM389 510h1v79h-1zM390 527h1v32h-1zM391 510h1v109h-1zM392 492h1v67h-1zM393 503h1v56h-1zM394 497h1v44h-1zM395 518h2v41h-2zM397 518h1v71h-1zM398 487h1v102h-1zM399 510h2v79h-2zM401 497h1v31h-1zM402 510h1v49h-1zM403 497h1v62h-1zM404 483h2v58h-2zM406 492h1v97h-1zM407 518h2v71h-2zM409 497h1v92h-1zM410 510h1v79h-1zM411 518h1v101h-1zM412 510h1v49h-1zM413 510h1v31h-1zM414 503h2v38h-2zM416 510h1v79h-1zM417 497h2v92h-2zM419 503h1v56h-1zM420 503h1v38h-1zM421 518h1v23h-1zM422 510h1v49h-1zM423 518h1v71h-1zM424 518h3v41h-3zM427 518h1v10h-1zM428 518h1v41h-1zM429 510h1v49h-1zM430 487h1v41h-1zM431 497h1v44h-1zM432 492h1v49h-1zM433 510h1v31h-1zM434 518h1v41h-1zM435 479h1v80h-1zM436 518h1v23h-1zM437 518h1v71h-1zM438 527h1v62h-1zM439 487h1v102h-1zM440 518h1v23h-1zM441 503h1v56h-1zM442 518h1v23h-1zM443 510h1v31h-1zM444 497h1v31h-1zM445 437h1v91h-1zM446 171h1v267h-1zM447 103h1v69h-1zM448 146h1v60h-1zM449 205h1v60h-1zM450 264h1v57h-1zM451 320h1v69h-1zM452 388h1v39h-1zM453 426h1v78h-1zM454 503h1v86h-1zM455 510h1v79h-1zM456 527h1v32h-1zM457 527h1v92h-1zM458 540h1v79h-1zM459 558h1v61h-1zM460 527h1v62h-1zM461 558h2v61h-2zM463 540h1v79h-1zM464 558h1v61h-1zM465 540h1v79h-1zM466 558h1v61h-1zM467 588h3v31h-3zM470 558h1v61h-1zM471 558h1v31h-1zM472 558h1v61h-1zM473 588h1v31h-1zM474 540h1v79h-1zM475 588h5v31h-5zM480 619h1v1h-1zM481 588h3v31h-3zM484 619h1v1h-1zM485 450h2v169h-2zM487 619h26v1h-26zM513 588h2v31h-2zM515 619h34v1h-34zM549 588h1v31h-1zM550 619h699v1h-699z" fill="#5954d9"/>
<path d="M156 95h1v524h-1zM157 95h1v1h-1zM158 95h1v56h-1zM159 101h1v9h-1zM160 109h1v9h-1zM161 117h1v10h-1zM162 126h1v8h-1zM163 133h1v9h-1zM164 141h1v8h-1zM165 148h1v8h-1zM166 155h1v8h-1zM167 162h1v8h-1zM168 169h1v8h-1zM169 176h1v8h-1zM170 114h1v70h-1zM171 114h1v86h-1zM172 199h2v3h-2zM174 201h1v2h-1zM175 201h1v3h-1zM176 201h1v2h-1zM177 202h1v3h-1zM178 204h1v5h-1zM179 208h1v4h-1zM180 211h1v6h-1zM181 216h1v4h-1zM182 219h1v7h-1zM183 224h1v6h-1zM184 229h1v8h-1zM185 236h1v5h-1zM186 239h1v5h-1zM187 243h1v8h-1zM188 244h1v7h-1zM189 241h1v7h-1zM190 240h1v4h-1zM191 235h1v6h-1zM192 233h1v3h-1zM193 233h1v1h-1zM194 233h1v2h-1zM195 231h1v4h-1zM196 231h1v18h-1zM197 248h1v14h-1zM198 261h1v7h-1zM199 266h1v7h-1zM200 272h1v4h-1zM201 275h1v5h-1zM202 277h1v8h-1zM203 283h1v4h-1zM204 285h1v7h-1zM205 290h1v4h-1zM206 290h1v8h-1zM207 295h1v6h-1zM208 299h1v4h-1zM209 302h1v4h-1zM210 302h1v3h-1zM211 302h1v7h-1zM212 305h1v7h-1zM213 307h1v5h-1zM214 309h1v4h-1zM215 310h1v5h-1zM216 311h1v5h-1zM217 312h1v6h-1zM218 314h2v5h-2zM220 318h1v5h-1zM221 320h1v7h-1zM222 321h1v7h-1zM223 321h1v4h-1zM224 320h1v3h-1zM225 316h1v7h-1zM226 320h1v7h-1zM227 323h1v5h-1zM228 327h1v12h-1zM229 334h1v7h-1zM230 339h1v7h-1zM231 345h1v10h-1zM232 343h1v13h-1zM233 343h2v10h-2zM235 347h1v11h-1zM236 349h2v9h-2zM238 351h1v6h-1zM239 349h1v11h-1zM240 349h1v12h-1zM241 355h1v6h-1zM242 358h1v7h-1zM243 360h1v6h-1zM244 359h1v11h-1zM245 362h1v8h-1zM246 360h1v15h-1zM247 363h1v12h-1zM248 364h1v10h-1zM249 365h1v9h-1zM250 367h1v13h-1zM251 372h1v16h-1zM252 377h1v8h-1zM253 372h1v13h-1zM254 372h1v16h-1zM255 375h1v8h-1zM256 377h1v10h-1zM257 378h1v15h-1zM258 379h1v14h-1zM259 383h1v7h-1zM260 380h1v12h-1zM261 382h1v8h-1zM262 382h1v12h-1zM263 388h1v6h-1zM264 389h1v6h-1zM265 386h1v12h-1zM266 386h1v13h-1zM267 390h1v18h-1zM268 390h1v13h-1zM269 393h1v11h-1zM270 395h1v14h-1zM271 396h1v18h-1zM272 401h1v5h-1zM273 395h1v11h-1zM274 394h1v11h-1zM275 396h1v21h-1zM276 408h1v8h-1zM277 414h1v4h-1zM278 405h1v11h-1zM279 405h1v18h-1zM280 407h1v12h-1zM281 400h1v18h-1zM282 408h1v21h-1zM283 411h1v18h-1zM284 415h1v14h-1zM285 418h1v15h-1zM286 418h1v18h-1zM287 412h2v20h-2zM289 414h1v30h-1zM290 417h1v27h-1zM291 415h1v26h-1zM292 422h1v12h-1zM293 422h1v5h-1zM294 419h1v27h-1zM295 415h1v22h-1zM296 418h1v32h-1zM297 430h1v11h-1zM298 421h1v41h-1zM299 430h1v14h-1zM300 432h1v19h-1zM301 443h1v10h-1zM302 436h1v14h-1zM303 439h1v9h-1zM304 439h1v12h-1zM305 433h1v10h-1zM306 437h1v23h-1zM307 435h1v25h-1zM308 435h1v15h-1zM309 424h1v41h-1zM310 437h1v13h-1zM311 432h1v18h-1zM312 430h1v32h-1zM313 445h1v17h-1zM314 445h1v13h-1zM315 437h1v30h-1zM316 437h1v14h-1zM317 443h1v19h-1zM318 435h1v42h-1zM319 449h1v16h-1zM320 440h1v25h-1zM321 440h1v48h-1zM322 452h1v18h-1zM323 439h1v31h-1zM324 450h1v17h-1zM325 449h1v28h-1zM326 447h1v30h-1zM327 447h1v20h-1zM328 454h1v26h-1zM329 450h1v17h-1zM330 445h1v32h-1zM331 459h1v18h-1zM332 459h1v21h-1zM333 464h1v16h-1zM334 466h1v27h-1zM335 464h1v29h-1zM336 464h1v13h-1zM337 461h1v16h-1zM338 450h1v30h-1zM339 459h1v39h-1zM340 447h1v46h-1zM341 449h1v70h-1zM342 450h1v69h-1zM343 459h1v6h-1zM344 459h1v34h-1zM345 450h1v48h-1zM346 457h1v41h-1zM347 459h1v25h-1zM348 461h1v23h-1zM349 457h1v36h-1zM350 454h1v26h-1zM351 466h1v11h-1zM352 469h1v8h-1zM353 459h1v39h-1zM354 459h1v25h-1zM355 469h1v19h-1zM356 459h1v39h-1zM357 469h1v19h-1zM358 457h2v36h-2zM360 466h1v27h-1zM361 464h1v13h-1zM362 476h1v35h-1zM363 452h1v59h-1zM364 464h1v24h-1zM365 472h1v32h-1zM366 469h1v35h-1zM367 476h1v17h-1zM368 476h1v28h-1zM369 476h2v35h-2zM371 483h1v36h-1zM372 492h1v27h-1zM373 472h1v21h-1zM374 472h1v26h-1zM375 461h1v58h-1zM376 479h1v19h-1zM377 464h1v40h-1zM378 464h1v20h-1zM379 472h1v47h-1zM380 372h1v147h-1zM381 105h1v268h-1zM382 105h1v59h-1zM383 163h1v58h-1zM384 220h1v60h-1zM385 279h1v55h-1zM386 333h1v68h-1zM387 400h1v58h-1zM388 457h1v20h-1zM389 469h1v42h-1zM390 483h1v58h-1zM391 510h1v31h-1zM392 503h1v116h-1zM393 503h1v38h-1zM394 527h2v32h-2zM396 518h2v71h-2zM398 503h1v56h-1zM399 527h2v32h-2zM401 503h1v116h-1zM402 527h1v92h-1zM403 540h1v49h-1zM404 588h1v1h-1zM405 558h1v61h-1zM406 540h1v49h-1zM407 558h1v61h-1zM408 540h3v79h-3zM411 450h2v169h-2zM413 619h836v1h-836z" fill="#ffffff"/>
<path d="M156 95h1v524h-1zM157 95h1v11h-1zM158 105h1v75h-1zM159 179h1v8h-1zM160 186h1v3h-1zM161 188h1v3h-1zM162 189h1v5h-1zM163 192h1v3h-1zM164 194h1v4h-1zM165 197h1v4h-1zM166 200h1v5h-1zM167 203h1v5h-1zM168 207h1v4h-1zM169 210h1v5h-1zM170 214h1v7h-1zM171 220h1v11h-1zM172 229h1v3h-1zM173 231h1v4h-1zM174 234h1v4h-1zM175 236h1v6h-1zM176 240h1v3h-1zM177 242h1v4h-1zM178 244h1v4h-1zM179 245h1v5h-1zM180 249h1v4h-1zM181 252h1v5h-1zM182 256h1v4h-1zM183 259h1v6h-1zM184 264h1v5h-1zM185 268h1v6h-1zM186 273h1v3h-1zM187 275h1v5h-1zM188 277h1v6h-1zM189 273h1v6h-1zM190 270h1v4h-1zM191 267h1v4h-1zM192 266h1v4h-1zM193 263h1v6h-1zM194 267h1v5h-1zM195 269h1v5h-1zM196 273h1v8h-1zM197 280h1v22h-1zM198 301h1v4h-1zM199 302h1v10h-1zM200 307h1v7h-1zM201 312h1v6h-1zM202 315h1v6h-1zM203 320h1v6h-1zM204 320h1v9h-1zM205 328h1v7h-1zM206 328h1v8h-1zM207 334h1v8h-1zM208 338h1v5h-1zM209 341h1v7h-1zM210 340h1v11h-1zM211 344h1v5h-1zM212 344h1v7h-1zM213 339h1v16h-1zM214 345h1v8h-1zM215 348h1v5h-1zM216 349h1v10h-1zM217 351h1v8h-1zM218 354h1v7h-1zM219 357h1v12h-1zM220 361h1v5h-1zM221 362h1v6h-1zM222 365h1v9h-1zM223 363h1v16h-1zM224 354h1v12h-1zM225 350h2v9h-2zM227 358h1v7h-1zM228 356h1v11h-1zM229 364h1v14h-1zM230 374h1v7h-1zM231 375h1v12h-1zM232 382h1v11h-1zM233 382h1v22h-1zM234 379h1v13h-1zM235 383h1v11h-1zM236 379h1v8h-1zM237 375h1v17h-1zM238 380h1v10h-1zM239 385h1v7h-1zM240 388h1v18h-1zM241 388h1v9h-1zM242 389h1v11h-1zM243 397h1v5h-1zM244 397h1v9h-1zM245 398h1v8h-1zM246 396h1v20h-1zM247 396h1v23h-1zM248 397h1v22h-1zM249 402h1v12h-1zM250 396h1v17h-1zM251 398h1v22h-1zM252 403h1v21h-1zM253 412h1v20h-1zM254 406h1v16h-1zM255 410h1v12h-1zM256 420h1v8h-1zM257 422h1v10h-1zM258 419h1v10h-1zM259 415h1v22h-1zM260 415h1v33h-1zM261 423h1v20h-1zM262 417h1v26h-1zM263 417h1v15h-1zM264 423h1v17h-1zM265 422h1v28h-1zM266 422h1v15h-1zM267 430h1v7h-1zM268 423h1v35h-1zM269 436h1v17h-1zM270 430h1v28h-1zM271 437h1v21h-1zM272 433h1v29h-1zM273 430h1v32h-1zM274 425h1v18h-1zM275 439h1v11h-1zM276 436h1v8h-1zM277 436h1v31h-1zM278 436h1v48h-1zM279 435h1v30h-1zM280 447h1v20h-1zM281 449h1v18h-1zM282 447h1v13h-1zM283 439h1v45h-1zM284 439h1v41h-1zM285 452h1v18h-1zM286 445h1v28h-1zM287 440h1v25h-1zM288 440h1v33h-1zM289 461h1v23h-1zM290 461h1v32h-1zM291 454h1v16h-1zM292 454h1v44h-1zM293 464h1v13h-1zM294 459h1v29h-1zM295 450h1v34h-1zM296 449h1v31h-1zM297 449h1v24h-1zM298 459h1v25h-1zM299 461h1v23h-1zM300 459h1v25h-1zM301 459h1v34h-1zM302 457h1v36h-1zM303 469h1v24h-1zM304 472h1v26h-1zM305 464h1v20h-1zM306 466h1v22h-1zM307 459h1v34h-1zM308 450h1v69h-1zM309 450h1v27h-1zM310 464h1v29h-1zM311 464h1v13h-1zM312 457h1v41h-1zM313 457h1v27h-1zM314 464h1v40h-1zM315 459h1v34h-1zM316 459h1v60h-1zM317 472h1v47h-1zM318 476h1v22h-1zM319 466h1v22h-1zM320 472h1v16h-1zM321 472h1v39h-1zM322 469h1v29h-1zM323 483h1v21h-1zM324 472h1v47h-1zM325 454h1v34h-1zM326 454h1v50h-1zM327 464h1v24h-1zM328 469h1v35h-1zM329 469h1v24h-1zM330 469h1v29h-1zM331 464h1v24h-1zM332 466h1v32h-1zM333 469h1v11h-1zM334 469h1v42h-1zM335 476h1v28h-1zM336 457h1v31h-1zM337 479h1v19h-1zM338 492h1v19h-1zM339 476h1v35h-1zM340 487h1v11h-1zM341 483h1v36h-1zM342 479h1v40h-1zM343 479h1v32h-1zM344 472h1v16h-1zM345 472h2v26h-2zM347 466h1v22h-1zM348 466h1v53h-1zM349 479h1v19h-1zM350 472h1v47h-1zM351 483h1v28h-1zM352 479h1v32h-1zM353 472h1v39h-1zM354 476h1v35h-1zM355 483h1v58h-1zM356 479h1v49h-1zM357 479h1v40h-1zM358 497h1v22h-1zM359 479h1v32h-1zM360 487h1v32h-1zM361 487h1v41h-1zM362 487h1v54h-1zM363 487h1v41h-1zM364 479h2v40h-2zM366 479h1v80h-1zM367 487h1v32h-1zM368 479h1v40h-1zM369 497h1v62h-1zM370 492h1v49h-1zM371 479h1v62h-1zM372 479h1v40h-1zM373 483h1v36h-1zM374 492h1v67h-1zM375 497h1v62h-1zM376 510h1v18h-1zM377 492h1v97h-1zM378 483h1v58h-1zM379 503h1v25h-1zM380 510h1v49h-1zM381 503h1v16h-1zM382 497h1v31h-1zM383 497h1v22h-1zM384 510h1v31h-1zM385 510h2v49h-2zM387 503h1v38h-1zM388 503h1v56h-1zM389 518h1v41h-1zM390 492h1v97h-1zM391 518h1v71h-1zM392 492h1v49h-1zM393 510h1v31h-1zM394 510h1v49h-1zM395 487h1v72h-1zM396 487h1v41h-1zM397 518h1v41h-1zM398 510h1v109h-1zM399 510h1v31h-1zM400 497h1v62h-1zM401 497h1v44h-1zM402 503h1v86h-1zM403 518h1v71h-1zM404 497h1v92h-1zM405 510h1v79h-1zM406 510h1v9h-1zM407 510h1v31h-1zM408 503h1v86h-1zM409 487h1v72h-1zM410 487h1v24h-1zM411 483h1v106h-1zM412 483h1v76h-1zM413 503h1v38h-1zM414 510h1v49h-1zM415 497h1v44h-1zM416 518h1v41h-1zM417 527h1v62h-1zM418 503h1v38h-1zM419 492h1v49h-1zM420 492h1v67h-1zM421 503h1v86h-1zM422 518h1v71h-1zM423 503h2v25h-2zM425 510h1v49h-1zM426 492h1v36h-1zM427 510h1v49h-1zM428 497h1v62h-1zM429 503h2v38h-2zM431 510h1v18h-1zM432 503h1v56h-1zM433 497h1v92h-1zM434 518h1v71h-1zM435 492h1v97h-1zM436 503h1v56h-1zM437 497h1v62h-1zM438 510h1v18h-1zM439 510h1v31h-1zM440 503h1v38h-1zM441 497h1v44h-1zM442 492h2v49h-2zM444 510h1v49h-1zM445 518h1v23h-1zM446 497h1v62h-1zM447 503h1v56h-1zM448 510h1v49h-1zM449 503h1v38h-1zM450 503h1v56h-1zM451 518h1v71h-1zM452 497h1v62h-1zM453 518h1v41h-1zM454 510h1v18h-1zM455 503h1v25h-1zM456 497h1v62h-1zM457 497h1v44h-1zM458 472h1v56h-1zM459 472h1v69h-1zM460 518h1v41h-1zM461 527h1v32h-1zM462 518h1v23h-1zM463 497h1v22h-1zM464 497h1v31h-1zM465 324h1v204h-1zM466 114h1v211h-1zM467 128h1v60h-1zM468 187h1v60h-1zM469 246h1v62h-1zM470 307h1v53h-1zM471 359h1v65h-1zM472 423h1v57h-1zM473 472h1v69h-1zM474 503h1v38h-1zM475 527h1v32h-1zM476 518h1v41h-1zM477 558h1v31h-1zM478 558h1v61h-1zM479 588h2v31h-2zM481 558h1v61h-1zM482 588h1v31h-1zM483 558h1v31h-1zM484 558h1v61h-1zM485 588h2v31h-2zM487 540h1v79h-1zM488 588h1v31h-1zM489 540h1v79h-1zM490 558h2v61h-2zM492 527h1v92h-1zM493 558h3v61h-3zM496 588h1v31h-1zM498 588h3v31h-3zM502 588h1v31h-1zM504 588h1v31h-1zM506 558h1v61h-1zM507 588h1v31h-1zM508 445h1v174h-1zM530 588h1v31h-1zM577 588h1v31h-1z" fill="#c0b6ac"/>
<path d="M156 97h1v522h-1zM157 97h1v74h-1zM158 101h1v70h-1zM159 103h1v8h-1zM160 110h1v10h-1zM161 119h1v9h-1zM162 127h1v8h-1zM163 134h1v9h-1zM164 142h1v8h-1zM165 149h1v7h-1zM166 155h1v8h-1zM167 162h1v8h-1zM168 169h1v7h-1zM169 175h1v7h-1zM170 117h1v65h-1zM171 117h1v80h-1zM172 196h1v5h-1zM173 199h1v2h-1zM174 200h3v3h-3zM177 201h1v3h-1zM178 203h1v5h-1zM179 206h1v5h-1zM180 210h1v6h-1zM181 214h1v6h-1zM182 219h1v3h-1zM183 221h1v8h-1zM184 228h1v8h-1zM185 233h1v6h-1zM186 238h1v5h-1zM187 242h1v4h-1zM188 245h1v3h-1zM189 242h1v4h-1zM190 239h1v5h-1zM191 234h1v6h-1zM192 232h1v4h-1zM193 231h1v3h-1zM194 232h1v1h-1zM195 231h1v2h-1zM196 231h1v17h-1zM197 247h1v14h-1zM198 260h1v6h-1zM199 265h1v7h-1zM200 271h1v5h-1zM201 272h1v9h-1zM202 279h1v4h-1zM203 282h1v5h-1zM204 285h1v2h-1zM205 286h1v8h-1zM206 292h1v3h-1zM207 293h1v8h-1zM208 298h1v4h-1zM209 299h1v5h-1zM210 299h1v7h-1zM211 301h1v6h-1zM212 304h1v5h-1zM213 306h1v5h-1zM214 308h1v3h-1zM215 309h1v6h-1zM216 310h1v5h-1zM217 311h1v6h-1zM218 315h1v4h-1zM219 314h1v8h-1zM220 315h1v8h-1zM221 317h1v8h-1zM222 320h1v5h-1zM223 321h1v10h-1zM224 315h1v8h-1zM225 314h1v9h-1zM226 318h1v11h-1zM227 322h1v8h-1zM228 325h1v10h-1zM229 333h1v9h-1zM230 338h1v5h-1zM231 342h1v12h-1zM232 347h1v7h-1zM233 346h1v5h-1zM234 345h1v8h-1zM235 345h1v9h-1zM236 346h1v5h-1zM237 347h1v7h-1zM238 351h1v3h-1zM239 353h1v6h-1zM240 355h1v8h-1zM241 351h1v12h-1zM242 358h1v14h-1zM243 358h1v10h-1zM244 356h1v9h-1zM245 360h1v11h-1zM246 360h1v12h-1zM247 366h1v6h-1zM248 365h1v9h-1zM249 364h1v10h-1zM250 364h1v8h-1zM251 367h1v14h-1zM252 374h1v8h-1zM253 374h1v9h-1zM254 373h1v12h-1zM255 371h1v12h-1zM256 373h1v12h-1zM257 377h1v14h-1zM258 384h1v8h-1zM259 379h1v6h-1zM260 379h1v10h-1zM261 378h1v10h-1zM262 383h1v11h-1zM263 389h1v5h-1zM264 382h1v11h-1zM265 388h1v11h-1zM266 389h1v10h-1zM267 392h1v6h-1zM268 389h1v9h-1zM269 391h1v13h-1zM270 392h1v12h-1zM271 392h1v17h-1zM272 398h2v11h-2zM274 398h1v14h-1zM275 398h1v22h-1zM276 403h1v13h-1zM277 409h1v12h-1zM278 403h1v10h-1zM279 401h1v10h-1zM280 406h1v13h-1zM281 413h1v10h-1zM282 396h1v18h-1zM283 405h1v7h-1zM284 411h1v11h-1zM285 413h1v9h-1zM286 411h1v16h-1zM287 411h1v12h-1zM288 419h1v13h-1zM289 412h1v16h-1zM290 417h1v11h-1zM291 415h1v18h-1zM292 418h1v15h-1zM293 415h1v18h-1zM294 419h1v14h-1zM295 424h1v13h-1zM296 422h1v19h-1zM297 422h1v21h-1zM298 428h1v20h-1zM299 419h1v29h-1zM300 420h1v21h-1zM301 432h1v14h-1zM302 437h1v11h-1zM303 432h1v21h-1zM304 423h1v20h-1zM305 431h1v24h-1zM306 431h1v12h-1zM307 440h1v20h-1zM308 433h1v22h-1zM309 433h1v37h-1zM310 428h1v30h-1zM311 433h1v22h-1zM312 433h1v18h-1zM313 442h1v16h-1zM314 439h1v28h-1zM315 436h1v31h-1zM316 449h1v18h-1zM317 442h1v18h-1zM318 437h1v30h-1zM319 454h1v16h-1zM320 442h1v23h-1zM321 447h1v26h-1zM322 440h1v48h-1zM323 443h1v45h-1zM324 452h1v18h-1zM325 447h1v26h-1zM326 452h1v28h-1zM327 445h1v25h-1zM328 443h1v27h-1zM329 452h1v46h-1zM330 459h1v39h-1zM331 459h1v18h-1zM332 450h1v20h-1zM333 449h1v35h-1zM334 464h1v24h-1zM335 449h1v35h-1zM336 450h1v23h-1zM337 457h1v20h-1zM338 449h1v31h-1zM339 461h1v16h-1zM340 452h1v28h-1zM341 452h1v32h-1zM342 466h1v14h-1zM343 449h1v31h-1zM344 457h1v27h-1zM345 464h1v24h-1zM346 449h1v39h-1zM347 450h1v43h-1zM348 459h1v34h-1zM349 457h1v31h-1zM350 472h1v47h-1zM351 469h1v24h-1zM352 464h1v29h-1zM353 442h1v51h-1zM354 459h1v82h-1zM355 466h1v75h-1zM356 457h1v27h-1zM357 466h1v18h-1zM358 469h1v15h-1zM359 461h1v19h-1zM360 466h1v18h-1zM361 459h1v29h-1zM362 466h1v22h-1zM363 466h1v18h-1zM364 457h1v31h-1zM365 469h1v35h-1zM366 476h1v28h-1zM367 472h1v56h-1zM368 476h1v52h-1zM369 466h1v18h-1zM370 464h1v34h-1zM371 479h1v19h-1zM372 464h1v29h-1zM373 472h1v26h-1zM374 483h1v36h-1zM375 479h1v9h-1zM376 466h1v38h-1zM377 466h2v53h-2zM379 469h1v24h-1zM380 472h1v47h-1zM381 479h1v40h-1zM382 464h2v55h-2zM384 469h1v42h-1zM385 472h1v12h-1zM386 457h1v36h-1zM387 479h1v40h-1zM388 497h1v14h-1zM389 466h1v45h-1zM390 466h1v38h-1zM391 483h1v21h-1zM392 479h1v5h-1zM393 466h1v18h-1zM394 461h1v43h-1zM395 461h1v50h-1zM396 483h1v21h-1zM397 469h1v29h-1zM398 487h1v24h-1zM399 476h2v35h-2zM401 472h1v39h-1zM402 245h1v228h-1zM403 109h1v137h-1zM404 138h1v59h-1zM405 196h1v60h-1zM406 255h1v61h-1zM407 315h1v54h-1zM408 368h1v54h-1zM409 421h1v52h-1zM410 472h1v56h-1zM411 503h1v38h-1zM412 497h1v44h-1zM413 497h1v31h-1zM414 527h1v62h-1zM415 527h1v32h-1zM416 527h1v92h-1zM417 510h2v79h-2zM419 540h1v49h-1zM420 527h1v92h-1zM421 558h1v31h-1zM422 518h1v101h-1zM423 540h2v49h-2zM425 540h1v79h-1zM426 527h2v92h-2zM428 558h2v61h-2zM430 540h1v79h-1zM431 558h1v61h-1zM432 527h1v92h-1zM433 588h1v31h-1zM434 558h1v61h-1zM436 460h1v159h-1zM524 588h2v31h-2z" fill="#4d4d4d"/>
<path d="M156 95h1v524h-1zM157 95h1v1h-1zM158 95h1v61h-1zM159 101h1v9h-1zM160 109h1v9h-1zM161 117h1v9h-1zM162 125h1v9h-1zM163 133h1v9h-1zM164 141h1v8h-1zM165 148h1v8h-1zM166 155h1v8h-1zM167 162h1v8h-1zM168 169h1v8h-1zM169 176h1v9h-1zM170 116h1v69h-1zM171 116h1v84h-1zM172 199h1v4h-1zM173 201h1v3h-1zM174 202h2v3h-2zM176 203h1v2h-1zM177 204h1v3h-1zM178 205h1v5h-1zM179 209h1v5h-1zM180 213h1v5h-1zM181 217h1v4h-1zM182 220h1v6h-1zM183 225h1v7h-1zM184 231h1v7h-1zM185 237h1v4h-1zM186 240h1v4h-1zM187 243h1v6h-1zM188 247h1v2h-1zM189 246h1v2h-1zM190 240h1v7h-1zM191 237h1v4h-1zM192 233h1v5h-1zM193 233h1v2h-1zM194 234h2v2h-2zM196 234h1v15h-1zM197 248h1v18h-1zM198 263h1v7h-1zM199 269h1v6h-1zM200 274h1v2h-1zM201 275h1v8h-1zM202 281h1v5h-1zM203 285h1v3h-1zM204 287h1v5h-1zM205 291h1v5h-1zM206 292h1v7h-1zM207 297h1v3h-1zM208 298h1v7h-1zM209 303h1v4h-1zM210 304h1v3h-1zM211 304h1v4h-1zM212 307h1v3h-1zM213 307h1v5h-1zM214 308h1v8h-1zM215 311h1v5h-1zM216 312h1v7h-1zM217 313h1v7h-1zM218 316h1v9h-1zM219 315h1v5h-1zM220 315h1v10h-1zM221 319h1v10h-1zM222 322h1v7h-1zM223 322h1v9h-1zM224 320h1v9h-1zM225 319h1v6h-1zM226 321h1v7h-1zM227 324h1v8h-1zM228 331h1v6h-1zM229 336h1v5h-1zM230 337h1v14h-1zM231 348h1v10h-1zM232 348h1v5h-1zM233 351h1v5h-1zM234 347h1v6h-1zM235 349h2v8h-2zM237 349h1v6h-1zM238 350h1v9h-1zM239 351h1v8h-1zM240 357h1v6h-1zM241 353h1v11h-1zM242 359h1v11h-1zM243 364h1v6h-1zM244 360h1v8h-1zM245 360h1v13h-1zM246 366h1v7h-1zM247 369h1v8h-1zM248 368h1v9h-1zM249 362h1v18h-1zM250 366h1v14h-1zM251 371h1v12h-1zM252 379h1v8h-1zM253 374h1v13h-1zM254 376h1v13h-1zM255 377h1v10h-1zM256 379h1v7h-1zM257 384h1v7h-1zM258 382h1v8h-1zM259 382h1v9h-1zM260 384h1v14h-1zM261 380h1v14h-1zM262 380h1v12h-1zM263 382h1v15h-1zM264 387h1v10h-1zM265 387h1v19h-1zM266 391h1v18h-1zM267 392h1v12h-1zM268 396h1v3h-1zM269 396h1v11h-1zM270 400h1v12h-1zM271 405h1v7h-1zM272 401h1v14h-1zM273 397h2v15h-2zM275 405h2v12h-2zM277 405h1v15h-1zM278 409h1v11h-1zM279 405h1v12h-1zM280 396h1v31h-1zM281 401h1v21h-1zM282 405h1v17h-1zM283 405h1v16h-1zM284 406h1v31h-1zM285 416h1v21h-1zM286 419h1v6h-1zM287 421h1v15h-1zM288 411h1v21h-1zM289 419h1v15h-1zM290 418h1v26h-1zM291 419h1v24h-1zM292 424h1v16h-1zM293 418h1v18h-1zM294 424h1v16h-1zM295 423h1v14h-1zM296 431h1v15h-1zM297 421h1v34h-1zM298 423h1v32h-1zM299 423h1v30h-1zM300 432h1v11h-1zM301 437h1v11h-1zM302 431h1v29h-1zM303 431h1v27h-1zM304 442h1v18h-1zM305 443h1v17h-1zM306 439h1v11h-1zM307 439h1v21h-1zM308 432h1v21h-1zM309 426h1v39h-1zM310 449h1v6h-1zM311 443h1v17h-1zM312 443h1v30h-1zM313 439h1v23h-1zM314 436h1v44h-1zM315 445h1v22h-1zM316 443h1v15h-1zM317 443h1v34h-1zM318 445h1v32h-1zM319 447h1v33h-1zM320 447h1v26h-1zM321 447h1v30h-1zM322 447h2v41h-2zM324 450h1v30h-1zM325 449h1v28h-1zM326 459h1v18h-1zM327 443h1v27h-1zM328 439h1v34h-1zM329 454h1v19h-1zM330 457h1v10h-1zM331 457h1v20h-1zM332 457h1v10h-1zM333 457h1v23h-1zM334 461h1v27h-1zM335 450h1v27h-1zM336 459h1v8h-1zM337 449h1v31h-1zM338 459h1v21h-1zM339 450h1v30h-1zM340 445h1v48h-1zM341 445h1v32h-1zM342 464h1v20h-1zM343 454h2v34h-2zM345 457h1v31h-1zM346 466h2v27h-2zM348 457h1v20h-1zM349 461h1v32h-1zM350 464h1v47h-1zM351 472h1v47h-1zM352 454h1v34h-1zM353 454h1v39h-1zM354 469h1v24h-1zM355 457h1v36h-1zM356 457h1v41h-1zM357 472h1v39h-1zM358 459h1v29h-1zM359 447h1v51h-1zM360 447h1v57h-1zM361 487h1v32h-1zM362 483h1v15h-1zM363 469h1v35h-1zM364 476h1v12h-1zM365 469h1v19h-1zM366 469h1v29h-1zM367 464h1v34h-1zM368 479h1v32h-1zM369 472h1v16h-1zM370 472h1v21h-1zM371 479h1v32h-1zM372 454h1v50h-1zM373 469h1v35h-1zM374 476h1v28h-1zM375 472h1v26h-1zM376 483h1v21h-1zM377 469h1v35h-1zM378 469h1v50h-1zM379 466h1v53h-1zM380 476h1v43h-1zM381 469h1v42h-1zM382 472h1v32h-1zM383 469h1v35h-1zM384 469h2v29h-2zM386 476h1v28h-1zM387 487h1v17h-1zM388 476h2v35h-2zM390 476h1v43h-1zM391 476h1v52h-1zM392 487h1v41h-1zM393 466h1v62h-1zM394 469h1v35h-1zM395 469h1v50h-1zM396 483h1v36h-1zM397 479h1v40h-1zM398 479h1v25h-1zM399 483h1v36h-1zM400 476h1v22h-1zM401 479h1v49h-1zM402 472h1v47h-1zM403 476h1v43h-1zM404 476h1v22h-1zM405 466h1v32h-1zM406 483h3v28h-3zM409 492h1v27h-1zM410 479h1v49h-1zM411 378h1v150h-1zM412 105h1v274h-1zM413 105h1v60h-1zM414 164h1v58h-1zM415 221h1v61h-1zM416 281h1v58h-1zM417 338h1v51h-1zM418 388h1v53h-1zM419 439h1v49h-1zM420 466h1v53h-1zM421 483h1v76h-1zM422 492h1v49h-1zM423 518h1v71h-1zM424 503h1v38h-1zM425 503h1v56h-1zM426 510h1v109h-1zM427 518h1v101h-1zM428 492h1v97h-1zM429 540h1v49h-1zM430 510h1v109h-1zM431 540h1v79h-1zM432 558h1v61h-1zM433 518h1v71h-1zM434 540h1v79h-1zM435 558h1v61h-1zM436 540h1v79h-1zM437 588h2v31h-2zM439 558h1v61h-1zM440 588h1v31h-1zM441 558h2v61h-2zM443 588h2v31h-2zM445 558h1v61h-1zM446 455h2v164h-2z" fill="#666666"/>
<path d="M156 97h1v522h-1zM157 97h1v11h-1zM158 107h1v74h-1zM159 180h1v9h-1zM160 188h1v2h-1zM161 189h1v4h-1zM162 192h1v2h-1zM163 193h1v3h-1zM164 195h1v2h-1zM165 196h1v4h-1zM166 199h1v4h-1zM167 202h1v3h-1zM168 204h1v5h-1zM169 208h1v5h-1zM170 212h1v7h-1zM171 218h1v7h-1zM172 224h1v5h-1zM173 228h1v4h-1zM174 231h1v5h-1zM175 233h1v3h-1zM176 235h1v5h-1zM177 238h1v3h-1zM178 240h1v5h-1zM179 244h1v3h-1zM180 246h1v4h-1zM181 248h1v5h-1zM182 252h1v5h-1zM183 256h1v5h-1zM184 259h1v7h-1zM185 265h1v4h-1zM186 267h1v6h-1zM187 270h1v8h-1zM188 275h1v3h-1zM189 271h1v5h-1zM190 267h1v5h-1zM191 264h1v4h-1zM192 263h1v3h-1zM193 260h1v6h-1zM194 264h1v5h-1zM195 267h1v6h-1zM196 271h1v7h-1zM197 276h1v19h-1zM198 294h1v10h-1zM199 302h1v7h-1zM200 303h1v9h-1zM201 308h1v7h-1zM202 312h1v6h-1zM203 315h1v8h-1zM204 318h1v7h-1zM205 324h1v3h-1zM206 326h1v10h-1zM207 333h1v6h-1zM208 336h1v7h-1zM209 337h1v3h-1zM210 339h1v8h-1zM211 338h1v10h-1zM212 342h1v8h-1zM213 345h1v6h-1zM214 341h1v10h-1zM215 341h1v12h-1zM216 348h1v7h-1zM217 346h1v11h-1zM218 350h1v13h-1zM219 357h1v6h-1zM220 352h1v14h-1zM221 358h1v10h-1zM222 362h1v6h-1zM223 360h1v12h-1zM224 351h2v11h-2zM226 347h1v6h-1zM227 350h1v11h-1zM228 360h1v8h-1zM229 361h1v13h-1zM230 372h1v6h-1zM231 377h1v10h-1zM232 372h1v12h-1zM233 379h2v13h-2zM235 380h1v4h-1zM236 380h1v7h-1zM237 379h1v9h-1zM238 379h1v8h-1zM239 382h2v8h-2zM241 382h1v10h-1zM242 389h2v17h-2zM244 393h1v9h-1zM245 391h1v11h-1zM246 393h1v11h-1zM247 395h1v15h-1zM248 395h1v18h-1zM249 397h1v16h-1zM250 402h1v11h-1zM251 408h1v16h-1zM252 403h1v17h-1zM253 408h1v13h-1zM254 409h1v15h-1zM255 398h1v26h-1zM256 409h1v9h-1zM257 416h1v17h-1zM258 413h1v13h-1zM259 411h1v13h-1zM260 414h1v18h-1zM261 414h1v19h-1zM262 422h1v18h-1zM263 414h1v20h-1zM264 421h1v13h-1zM265 421h1v10h-1zM266 418h1v28h-1zM267 427h1v23h-1zM268 419h1v36h-1zM269 419h1v25h-1zM270 423h1v25h-1zM271 423h1v27h-1zM272 431h1v19h-1zM273 437h1v16h-1zM274 426h1v17h-1zM275 433h1v15h-1zM276 436h1v17h-1zM277 435h1v27h-1zM278 435h1v16h-1zM279 425h1v42h-1zM280 435h1v30h-1zM281 445h1v32h-1zM282 437h1v16h-1zM283 439h1v14h-1zM284 440h1v25h-1zM285 449h1v44h-1zM286 443h1v50h-1zM287 443h1v27h-1zM288 449h1v44h-1zM289 445h1v25h-1zM290 450h1v15h-1zM291 449h1v18h-1zM292 449h2v21h-2zM294 449h1v24h-1zM295 459h1v21h-1zM296 454h1v26h-1zM297 445h1v28h-1zM298 445h1v43h-1zM299 469h1v29h-1zM300 452h1v25h-1zM301 461h1v27h-1zM302 452h1v36h-1zM303 466h1v38h-1zM304 466h1v22h-1zM305 472h1v12h-1zM306 454h1v30h-1zM307 466h2v18h-2zM309 461h1v27h-1zM310 464h1v24h-1zM311 469h1v29h-1zM312 472h1v21h-1zM313 464h1v34h-1zM314 469h1v19h-1zM315 457h1v27h-1zM316 472h2v12h-2zM318 454h1v30h-1zM319 454h1v39h-1zM320 459h1v25h-1zM321 461h1v32h-1zM322 466h1v27h-1zM323 466h1v53h-1zM324 461h1v27h-1zM325 466h1v27h-1zM326 461h1v16h-1zM327 461h1v58h-1zM328 459h2v34h-2zM330 464h1v24h-1zM331 472h1v26h-1zM332 464h1v24h-1zM333 466h1v32h-1zM334 479h1v25h-1zM335 459h1v45h-1zM336 461h1v19h-1zM337 469h1v29h-1zM338 459h1v29h-1zM339 466h2v27h-2zM341 479h1v32h-1zM342 483h1v21h-1zM343 479h1v32h-1zM344 472h1v47h-1zM345 476h1v43h-1zM346 472h1v26h-1zM347 469h1v19h-1zM348 483h2v28h-2zM350 479h1v25h-1zM351 469h1v29h-1zM352 487h2v32h-2zM354 464h1v55h-1zM355 464h1v24h-1zM356 469h1v29h-1zM357 487h1v17h-1zM358 472h1v26h-1zM359 472h1v56h-1zM360 479h1v40h-1zM361 483h1v58h-1zM362 487h1v32h-1zM363 497h1v62h-1zM364 469h1v42h-1zM365 469h1v72h-1zM366 487h1v32h-1zM367 492h1v27h-1zM368 476h1v35h-1zM369 476h1v52h-1zM370 487h1v41h-1zM371 497h1v92h-1zM372 492h1v97h-1zM373 476h1v83h-1zM374 492h1v49h-1zM375 497h1v44h-1zM376 497h1v31h-1zM377 492h2v27h-2zM379 497h1v31h-1zM380 510h2v79h-2zM382 503h2v86h-2zM384 492h1v36h-1zM385 492h2v49h-2zM387 483h1v45h-1zM388 518h1v41h-1zM389 497h1v62h-1zM390 518h1v23h-1zM391 487h1v41h-1zM392 492h1v49h-1zM393 492h1v27h-1zM394 503h1v25h-1zM395 497h1v31h-1zM396 503h1v56h-1zM397 503h1v25h-1zM398 503h1v56h-1zM399 540h1v49h-1zM400 497h1v44h-1zM401 510h1v18h-1zM402 483h1v76h-1zM403 510h2v31h-2zM405 510h1v18h-1zM406 483h1v45h-1zM407 483h1v58h-1zM408 487h1v32h-1zM409 487h1v54h-1zM410 487h1v102h-1zM411 510h1v79h-1zM412 476h1v83h-1zM413 503h2v56h-2zM415 518h1v41h-1zM416 497h1v62h-1zM417 503h1v86h-1zM418 487h1v54h-1zM419 503h1v38h-1zM420 497h1v62h-1zM421 510h1v49h-1zM422 497h1v44h-1zM423 503h1v86h-1zM424 487h1v102h-1zM425 503h1v86h-1zM426 497h1v31h-1zM427 492h1v49h-1zM428 476h2v52h-2zM430 479h1v62h-1zM431 261h1v219h-1zM432 124h1v138h-1zM433 152h1v60h-1zM434 211h1v61h-1zM435 271h1v62h-1zM436 332h1v51h-1zM437 382h1v64h-1zM438 445h1v59h-1zM439 487h1v54h-1zM440 518h1v71h-1zM441 558h1v31h-1zM442 540h1v19h-1zM443 558h2v61h-2zM445 540h1v49h-1zM446 540h4v79h-4zM450 558h1v61h-1zM451 527h2v92h-2zM453 540h1v79h-1zM454 588h1v31h-1zM455 558h2v61h-2zM457 588h2v31h-2zM459 558h2v61h-2zM461 588h1v31h-1zM462 558h1v31h-1zM463 558h1v61h-1zM464 588h1v31h-1zM465 558h1v31h-1zM466 588h1v31h-1zM468 588h1v31h-1zM469 450h1v169h-1zM472 588h2v31h-2zM508 588h2v31h-2z" fill="#808080"/>
<path d="M156 96h1v523h-1zM157 96h1v81h-1zM158 98h1v78h-1zM159 102h1v9h-1zM160 110h1v9h-1zM161 118h1v9h-1zM162 126h1v9h-1zM163 134h1v9h-1zM164 142h1v8h-1zM165 149h1v7h-1zM166 155h1v9h-1zM167 163h1v9h-1zM168 171h1v7h-1zM169 177h1v8h-1zM170 118h1v67h-1zM171 119h1v83h-1zM172 201h1v3h-1zM173 203h1v1h-1zM174 203h1v2h-1zM175 204h1v1h-1zM176 203h1v4h-1zM177 205h1v3h-1zM178 206h1v6h-1zM179 211h1v4h-1zM180 214h1v6h-1zM181 219h1v5h-1zM182 223h1v3h-1zM183 225h1v9h-1zM184 233h1v6h-1zM185 237h1v6h-1zM186 241h1v7h-1zM187 245h1v5h-1zM188 248h1v4h-1zM189 246h1v3h-1zM190 241h1v6h-1zM191 236h1v6h-1zM192 235h1v4h-1zM193 234h3v4h-3zM196 234h1v18h-1zM197 251h1v16h-1zM198 264h1v6h-1zM199 268h1v5h-1zM200 272h1v6h-1zM201 277h1v7h-1zM202 282h1v4h-1zM203 284h1v7h-1zM204 288h1v5h-1zM205 289h1v10h-1zM206 295h1v7h-1zM207 298h1v7h-1zM208 300h1v8h-1zM209 304h1v5h-1zM210 304h1v3h-1zM211 305h1v5h-1zM212 306h1v7h-1zM213 309h1v5h-1zM214 311h1v4h-1zM215 311h1v5h-1zM216 314h1v7h-1zM217 314h1v6h-1zM218 315h1v7h-1zM219 316h1v7h-1zM220 319h1v7h-1zM221 322h1v4h-1zM222 324h1v5h-1zM223 324h1v7h-1zM224 321h1v7h-1zM225 321h1v5h-1zM226 322h1v7h-1zM227 328h1v5h-1zM228 329h1v7h-1zM229 334h1v9h-1zM230 342h1v5h-1zM231 346h1v8h-1zM232 352h1v3h-1zM233 348h1v6h-1zM234 347h1v5h-1zM235 351h1v4h-1zM236 352h1v10h-1zM237 352h1v9h-1zM238 351h1v10h-1zM239 355h2v8h-2zM241 357h1v10h-1zM242 362h1v12h-1zM243 363h1v11h-1zM244 362h1v10h-1zM245 366h1v7h-1zM246 366h1v9h-1zM247 366h1v11h-1zM248 365h1v14h-1zM249 370h1v10h-1zM250 374h1v4h-1zM251 376h1v8h-1zM252 372h1v17h-1zM253 373h1v8h-1zM254 378h1v7h-1zM255 376h1v14h-1zM256 377h1v11h-1zM257 387h1v8h-1zM258 382h1v10h-1zM259 379h1v18h-1zM260 380h1v5h-1zM261 383h1v15h-1zM262 385h1v9h-1zM263 382h1v14h-1zM264 387h1v12h-1zM265 387h3v19h-3zM268 395h1v9h-1zM269 390h1v12h-1zM270 395h1v7h-1zM271 398h1v17h-1zM272 400h1v15h-1zM273 396h1v14h-1zM274 398h1v18h-1zM275 409h1v8h-1zM276 411h1v17h-1zM277 400h1v28h-1zM278 411h1v9h-1zM279 411h1v5h-1zM280 405h1v15h-1zM281 414h1v7h-1zM282 404h1v16h-1zM283 404h1v22h-1zM284 416h1v6h-1zM285 415h1v13h-1zM286 415h1v19h-1zM287 409h1v25h-1zM288 419h1v17h-1zM289 411h1v17h-1zM290 414h1v19h-1zM291 411h1v32h-1zM292 424h1v14h-1zM293 412h1v26h-1zM294 412h1v39h-1zM295 423h1v14h-1zM296 425h1v15h-1zM297 423h1v11h-1zM298 432h1v16h-1zM299 436h1v5h-1zM300 430h1v11h-1zM301 427h2v21h-2zM303 428h2v27h-2zM305 439h1v16h-1zM306 431h1v24h-1zM307 432h1v33h-1zM308 427h1v33h-1zM309 435h1v27h-1zM310 457h1v8h-1zM311 449h1v16h-1zM312 457h1v23h-1zM313 440h1v37h-1zM314 457h1v8h-1zM315 440h1v18h-1zM316 450h1v8h-1zM317 450h1v20h-1zM318 439h1v31h-1zM319 442h1v38h-1zM320 449h1v31h-1zM321 457h2v27h-2zM323 440h1v30h-1zM324 452h1v21h-1zM325 447h1v26h-1zM326 457h1v16h-1zM327 454h1v39h-1zM328 459h1v29h-1zM329 450h1v23h-1zM330 457h1v36h-1zM331 472h1v21h-1zM332 452h1v28h-1zM333 452h1v21h-1zM334 447h1v33h-1zM335 459h1v25h-1zM336 457h1v27h-1zM337 457h1v47h-1zM338 452h1v21h-1zM339 459h1v39h-1zM340 459h1v25h-1zM341 450h1v30h-1zM342 461h1v19h-1zM343 452h1v25h-1zM344 461h1v12h-1zM345 464h1v34h-1zM346 461h1v37h-1zM347 476h1v22h-1zM348 469h1v29h-1zM349 464h1v29h-1zM350 461h2v32h-2zM352 469h1v29h-1zM353 476h1v17h-1zM354 461h1v19h-1zM355 464h2v29h-2zM357 461h1v32h-1zM358 472h1v56h-1zM359 483h1v28h-1zM360 457h1v36h-1zM361 469h1v24h-1zM362 464h1v29h-1zM363 464h1v16h-1zM364 476h1v35h-1zM365 472h1v39h-1zM366 464h1v29h-1zM367 466h1v38h-1zM368 469h1v35h-1zM369 476h1v28h-1zM370 464h1v24h-1zM371 466h1v32h-1zM372 472h1v32h-1zM373 472h1v21h-1zM374 466h1v45h-1zM375 466h1v32h-1zM376 472h1v87h-1zM377 479h1v80h-1zM378 479h1v40h-1zM379 479h1v14h-1zM380 469h1v24h-1zM381 472h1v32h-1zM382 487h1v11h-1zM383 487h1v17h-1zM384 476h1v28h-1zM385 476h1v17h-1zM386 476h2v83h-2zM388 476h1v43h-1zM389 483h1v36h-1zM390 479h1v80h-1zM391 464h1v29h-1zM392 483h1v10h-1zM393 469h2v42h-2zM395 479h1v14h-1zM396 479h1v25h-1zM397 472h1v21h-1zM398 483h1v45h-1zM399 472h1v39h-1zM400 479h1v40h-1zM401 476h1v28h-1zM402 479h1v25h-1zM403 472h1v47h-1zM404 476h1v52h-1zM405 472h1v56h-1zM406 472h2v32h-2zM408 479h1v25h-1zM409 503h1v38h-1zM410 476h1v43h-1zM411 487h1v32h-1zM412 483h1v58h-1zM413 472h1v69h-1zM414 472h1v39h-1zM415 472h1v32h-1zM416 483h1v36h-1zM417 479h1v40h-1zM418 472h1v47h-1zM419 472h1v21h-1zM420 483h1v36h-1zM421 492h1v19h-1zM422 479h1v25h-1zM423 483h1v21h-1zM424 487h1v54h-1zM425 479h1v32h-1zM426 479h1v49h-1zM427 479h1v14h-1zM428 479h1v32h-1zM429 497h1v22h-1zM430 459h1v52h-1zM431 487h1v17h-1zM432 483h1v45h-1zM433 479h1v49h-1zM434 492h1v19h-1zM435 497h1v7h-1zM436 487h1v17h-1zM437 487h1v41h-1zM438 483h1v45h-1zM439 466h1v53h-1zM440 469h1v29h-1zM441 237h1v233h-1zM442 101h1v137h-1zM443 130h1v59h-1zM444 188h1v58h-1zM445 245h1v61h-1zM446 305h1v63h-1zM447 367h1v48h-1zM448 414h1v48h-1zM449 461h1v58h-1zM450 497h1v122h-1zM451 503h1v116h-1zM452 518h1v41h-1zM453 510h2v49h-2zM455 518h2v71h-2zM457 540h1v49h-1zM458 527h2v32h-2zM460 527h1v92h-1zM461 558h1v61h-1zM462 540h1v49h-1zM463 527h1v32h-1zM464 540h1v79h-1zM465 588h1v31h-1zM466 527h1v62h-1zM467 588h2v31h-2zM469 558h1v61h-1zM470 588h1v31h-1zM471 588h1v1h-1zM472 558h1v61h-1zM473 588h5v31h-5zM478 558h1v61h-1zM479 588h2v31h-2zM481 432h1v187h-1zM508 588h1v31h-1zM551 588h1v31h-1z" fill="#999999"/>
<path d="M156 97h1v522h-1zM157 96h1v52h-1zM158 98h1v49h-1zM159 102h1v10h-1zM160 111h1v8h-1zM161 118h1v10h-1zM162 127h1v9h-1zM163 135h1v8h-1zM164 142h1v9h-1zM165 150h1v9h-1zM166 158h1v8h-1zM167 165h1v8h-1zM168 172h1v7h-1zM169 178h1v10h-1zM170 118h1v70h-1zM171 118h1v86h-1zM172 203h1v3h-1zM173 204h1v3h-1zM174 205h1v3h-1zM175 206h1v2h-1zM176 207h1v1h-1zM177 207h1v3h-1zM178 207h1v5h-1zM179 211h1v6h-1zM180 216h1v5h-1zM181 220h1v5h-1zM182 224h1v4h-1zM183 227h1v6h-1zM184 232h1v9h-1zM185 240h1v5h-1zM186 244h1v5h-1zM187 248h1v4h-1zM188 250h1v3h-1zM189 248h1v3h-1zM190 244h1v5h-1zM191 238h1v7h-1zM192 237h1v4h-1zM193 236h1v3h-1zM194 237h1v2h-1zM195 236h1v3h-1zM196 236h1v17h-1zM197 252h1v14h-1zM198 265h1v5h-1zM199 269h1v8h-1zM200 274h1v9h-1zM201 279h1v6h-1zM202 283h1v5h-1zM203 287h1v5h-1zM204 290h1v3h-1zM205 292h1v7h-1zM206 298h1v6h-1zM207 301h1v5h-1zM208 305h1v3h-1zM209 305h1v7h-1zM210 306h1v3h-1zM211 307h1v6h-1zM212 309h1v6h-1zM213 310h1v5h-1zM214 310h1v7h-1zM215 312h1v5h-1zM216 315h1v7h-1zM217 319h1v4h-1zM218 322h1v2h-1zM219 321h1v4h-1zM220 324h1v6h-1zM221 325h1v4h-1zM222 325h1v7h-1zM223 326h1v6h-1zM224 323h1v7h-1zM225 321h1v6h-1zM226 323h1v10h-1zM227 323h1v12h-1zM228 332h1v7h-1zM229 336h1v9h-1zM230 341h1v11h-1zM231 342h1v16h-1zM232 347h1v13h-1zM233 347h1v9h-1zM234 353h1v7h-1zM235 353h1v4h-1zM236 353h1v6h-1zM237 352h1v8h-1zM238 356h1v9h-1zM239 357h1v10h-1zM240 357h1v6h-1zM241 359h1v9h-1zM242 360h1v14h-1zM243 365h1v10h-1zM244 363h1v10h-1zM245 365h1v6h-1zM246 369h1v3h-1zM247 370h1v11h-1zM248 371h1v10h-1zM249 372h1v9h-1zM250 370h1v12h-1zM251 369h1v23h-1zM252 380h1v12h-1zM253 379h1v7h-1zM254 381h2v9h-2zM256 382h1v14h-1zM257 382h1v11h-1zM258 382h1v14h-1zM259 385h1v11h-1zM260 387h1v11h-1zM261 392h1v6h-1zM262 387h1v17h-1zM263 390h1v14h-1zM264 385h1v20h-1zM265 389h1v11h-1zM266 389h1v21h-1zM267 401h1v5h-1zM268 398h1v11h-1zM269 400h1v12h-1zM270 401h1v13h-1zM271 400h1v20h-1zM272 402h1v12h-1zM273 398h1v18h-1zM274 398h1v15h-1zM275 400h1v18h-1zM276 408h1v12h-1zM277 412h1v9h-1zM278 411h1v12h-1zM279 411h1v10h-1zM280 415h1v7h-1zM281 419h1v17h-1zM282 408h1v21h-1zM283 410h1v16h-1zM284 415h1v11h-1zM285 417h1v10h-1zM286 415h1v14h-1zM287 422h1v16h-1zM288 419h1v15h-1zM289 421h1v20h-1zM290 419h1v31h-1zM291 421h1v22h-1zM292 421h1v20h-1zM293 413h1v23h-1zM294 423h1v30h-1zM295 423h1v18h-1zM296 427h1v10h-1zM297 427h1v31h-1zM298 428h1v10h-1zM299 432h1v12h-1zM300 424h1v31h-1zM301 435h1v23h-1zM302 435h1v18h-1zM303 435h1v27h-1zM304 435h1v25h-1zM305 440h1v6h-1zM306 435h1v23h-1zM307 432h1v21h-1zM308 440h1v30h-1zM309 454h1v13h-1zM310 447h1v18h-1zM311 449h1v18h-1zM312 431h1v46h-1zM313 443h1v34h-1zM314 443h1v22h-1zM315 449h1v16h-1zM316 442h1v25h-1zM317 442h1v42h-1zM318 449h1v24h-1zM319 452h1v32h-1zM320 449h1v28h-1zM321 449h1v21h-1zM322 457h1v5h-1zM323 452h1v15h-1zM324 459h1v21h-1zM325 445h1v17h-1zM326 447h1v46h-1zM327 452h2v52h-2zM329 452h1v25h-1zM330 450h1v34h-1zM331 450h1v23h-1zM332 459h1v14h-1zM333 466h1v45h-1zM334 454h1v30h-1zM335 454h1v23h-1zM336 461h1v27h-1zM337 466h1v14h-1zM338 457h1v27h-1zM339 464h1v29h-1zM340 476h1v17h-1zM341 454h1v39h-1zM342 459h1v45h-1zM343 472h1v32h-1zM344 457h1v31h-1zM345 457h1v23h-1zM346 466h1v22h-1zM347 464h1v24h-1zM348 469h1v24h-1zM349 483h1v15h-1zM350 459h1v39h-1zM351 469h1v42h-1zM352 461h1v37h-1zM353 472h1v32h-1zM354 459h1v21h-1zM355 459h1v25h-1zM356 464h1v64h-1zM357 466h1v27h-1zM358 464h1v20h-1zM359 457h1v41h-1zM360 472h2v32h-2zM362 472h1v26h-1zM363 472h2v16h-2zM365 472h1v32h-1zM366 472h1v39h-1zM367 476h3v35h-3zM370 476h1v43h-1zM371 476h1v22h-1zM372 472h1v26h-1zM373 469h1v19h-1zM374 469h1v24h-1zM375 476h2v43h-2zM377 483h1v36h-1zM378 472h1v47h-1zM379 476h1v35h-1zM380 469h1v29h-1zM381 476h1v35h-1zM382 472h1v32h-1zM383 492h1v49h-1zM384 472h1v39h-1zM385 479h1v40h-1zM386 472h2v32h-2zM388 461h1v23h-1zM389 479h1v62h-1zM390 492h1v19h-1zM391 479h1v49h-1zM392 472h1v47h-1zM393 472h1v39h-1zM394 479h1v25h-1zM395 483h1v28h-1zM396 483h1v36h-1zM397 487h1v41h-1zM398 479h1v19h-1zM399 487h1v102h-1zM400 476h1v113h-1zM401 483h1v45h-1zM402 483h1v36h-1zM403 476h1v28h-1zM404 476h1v43h-1zM405 483h1v36h-1zM406 483h1v28h-1zM407 487h1v24h-1zM408 479h1v32h-1zM409 487h1v24h-1zM410 476h1v52h-1zM411 497h1v31h-1zM412 479h1v32h-1zM413 487h1v41h-1zM414 476h1v43h-1zM415 469h1v35h-1zM416 479h1v40h-1zM417 483h2v45h-2zM419 476h1v52h-1zM420 464h1v47h-1zM421 464h1v40h-1zM422 479h1v25h-1zM423 479h1v40h-1zM424 483h2v28h-2zM426 472h1v32h-1zM427 497h1v22h-1zM428 487h1v41h-1zM429 442h1v86h-1zM430 238h1v205h-1zM431 101h1v138h-1zM432 130h1v59h-1zM433 188h1v61h-1zM434 248h1v57h-1zM435 304h1v64h-1zM436 367h1v57h-1zM437 423h1v42h-1zM438 464h1v40h-1zM439 492h1v67h-1zM440 497h1v62h-1zM441 510h1v49h-1zM442 527h1v14h-1zM443 510h2v109h-2zM445 518h1v101h-1zM446 558h1v61h-1zM447 540h1v49h-1zM448 527h1v92h-1zM449 558h1v61h-1zM450 527h2v92h-2zM452 540h1v79h-1zM453 540h1v49h-1zM454 558h3v61h-3zM457 527h2v92h-2zM459 540h1v79h-1zM460 588h2v31h-2zM462 558h1v61h-1zM463 540h1v79h-1zM464 588h1v31h-1zM465 540h1v79h-1zM466 540h1v49h-1zM467 588h2v31h-2zM469 428h1v191h-1zM470 619h779v1h-779z" fill="#b3b3b3"/>
<path d="M156 95h1v524h-1zM157 95h1v11h-1zM158 105h1v75h-1zM159 179h1v7h-1zM160 185h1v4h-1zM161 187h1v4h-1zM162 190h1v3h-1zM163 191h1v3h-1zM164 192h1v3h-1zM165 194h1v3h-1zM166 196h1v5h-1zM167 200h1v4h-1zM168 203h1v4h-1zM169 206h1v4h-1zM170 209h1v6h-1zM171 214h1v7h-1zM172 220h1v6h-1zM173 225h1v4h-1zM174 228h1v4h-1zM175 231h1v3h-1zM176 232h1v4h-1zM177 234h1v4h-1zM178 236h1v6h-1zM179 240h1v4h-1zM180 243h1v5h-1zM181 247h1v4h-1zM182 249h1v4h-1zM183 252h1v6h-1zM184 257h1v6h-1zM185 262h1v4h-1zM186 265h1v5h-1zM187 269h1v7h-1zM188 271h1v5h-1zM189 269h1v6h-1zM190 266h1v4h-1zM191 261h1v7h-1zM192 258h1v6h-1zM193 256h1v7h-1zM194 261h1v5h-1zM195 264h1v5h-1zM196 268h1v7h-1zM197 274h1v18h-1zM198 291h1v9h-1zM199 298h1v9h-1zM200 303h1v7h-1zM201 308h1v6h-1zM202 311h1v6h-1zM203 315h1v7h-1zM204 317h1v6h-1zM205 322h1v3h-1zM206 323h1v8h-1zM207 328h1v8h-1zM208 331h1v9h-1zM209 334h1v6h-1zM210 334h1v8h-1zM211 334h1v9h-1zM212 337h1v7h-1zM213 340h1v9h-1zM214 343h1v6h-1zM215 341h1v6h-1zM216 343h1v12h-1zM217 346h1v9h-1zM218 349h1v5h-1zM219 349h1v12h-1zM220 354h1v9h-1zM221 356h1v9h-1zM222 353h1v14h-1zM223 355h1v12h-1zM224 354h1v5h-1zM225 347h1v10h-1zM226 345h1v6h-1zM227 350h1v8h-1zM228 351h1v14h-1zM229 362h1v3h-1zM230 363h1v16h-1zM231 374h1v15h-1zM232 375h1v14h-1zM233 381h1v8h-1zM234 376h1v9h-1zM235 374h1v10h-1zM236 376h1v6h-1zM237 376h1v10h-1zM238 375h1v8h-1zM239 382h1v5h-1zM240 380h1v8h-1zM241 387h1v7h-1zM242 388h1v9h-1zM243 389h1v8h-1zM244 389h1v12h-1zM245 390h1v8h-1zM246 393h2v17h-2zM248 391h1v12h-1zM249 398h1v10h-1zM250 399h1v10h-1zM251 399h1v11h-1zM252 400h1v22h-1zM253 398h1v19h-1zM254 400h1v26h-1zM255 409h1v17h-1zM256 409h1v9h-1zM257 413h1v13h-1zM258 405h1v21h-1zM259 410h1v43h-1zM260 405h1v48h-1zM261 405h1v21h-1zM262 417h1v11h-1zM263 419h1v9h-1zM264 408h1v28h-1zM265 424h1v17h-1zM266 420h1v17h-1zM267 420h1v20h-1zM268 426h1v8h-1zM269 426h1v17h-1zM270 428h1v8h-1zM271 431h1v12h-1zM272 427h1v16h-1zM273 435h1v9h-1zM274 431h1v15h-1zM275 430h1v32h-1zM276 431h1v9h-1zM277 435h1v11h-1zM278 431h1v36h-1zM279 439h1v11h-1zM280 442h1v16h-1zM281 436h1v19h-1zM282 436h1v34h-1zM283 445h1v22h-1zM284 433h1v44h-1zM285 433h1v22h-1zM286 439h1v31h-1zM287 445h1v32h-1zM288 447h1v18h-1zM289 445h1v35h-1zM290 445h1v15h-1zM291 449h1v24h-1zM292 449h1v11h-1zM293 454h1v23h-1zM294 442h1v31h-1zM295 450h1v27h-1zM296 457h1v20h-1zM297 450h1v12h-1zM298 449h1v24h-1zM299 449h1v28h-1zM300 452h1v32h-1zM301 450h1v30h-1zM302 450h1v43h-1zM303 449h1v55h-1zM304 459h1v45h-1zM305 452h1v36h-1zM306 452h1v28h-1zM307 459h1v29h-1zM308 452h1v36h-1zM309 464h1v9h-1zM310 461h1v16h-1zM311 476h1v4h-1zM312 454h1v30h-1zM313 454h1v19h-1zM314 461h1v32h-1zM315 459h1v21h-1zM316 466h1v32h-1zM317 466h1v14h-1zM318 452h1v52h-1zM319 454h1v34h-1zM320 461h1v27h-1zM321 461h1v32h-1zM322 454h1v39h-1zM323 454h1v50h-1zM324 479h1v25h-1zM325 469h1v11h-1zM326 461h1v19h-1zM327 461h1v27h-1zM328 452h1v32h-1zM329 452h1v41h-1zM330 454h1v39h-1zM331 472h1v47h-1zM332 461h1v58h-1zM333 464h1v34h-1zM334 459h1v21h-1zM335 466h1v38h-1zM336 466h1v62h-1zM337 472h1v16h-1zM338 472h1v26h-1zM339 466h1v32h-1zM340 479h1v32h-1zM341 452h1v41h-1zM342 479h1v19h-1zM343 466h1v27h-1zM344 492h1v36h-1zM345 476h1v52h-1zM346 469h1v59h-1zM347 469h1v29h-1zM348 472h1v32h-1zM349 479h1v80h-1zM350 472h1v26h-1zM351 476h1v22h-1zM352 469h1v29h-1zM353 472h1v16h-1zM354 461h1v58h-1zM355 483h1v28h-1zM356 487h1v32h-1zM357 479h2v32h-2zM359 483h1v36h-1zM360 466h1v62h-1zM361 479h1v32h-1zM362 487h1v24h-1zM363 483h1v106h-1zM364 483h1v45h-1zM365 476h1v17h-1zM366 479h2v32h-2zM368 497h1v14h-1zM369 483h1v45h-1zM370 492h1v19h-1zM371 487h1v72h-1zM372 510h1v18h-1zM373 492h1v36h-1zM374 476h1v35h-1zM375 476h1v83h-1zM376 487h1v72h-1zM377 497h1v62h-1zM378 492h1v67h-1zM379 497h2v31h-2zM381 487h1v41h-1zM382 487h1v17h-1zM383 487h1v32h-1zM384 483h1v36h-1zM385 497h1v92h-1zM386 483h1v106h-1zM387 497h1v44h-1zM388 492h1v49h-1zM389 483h1v45h-1zM390 510h1v49h-1zM391 492h1v67h-1zM392 497h1v44h-1zM393 497h1v22h-1zM394 492h1v27h-1zM395 503h1v56h-1zM396 497h1v92h-1zM397 487h1v72h-1zM398 492h1v27h-1zM399 483h1v45h-1zM400 487h1v72h-1zM401 492h1v36h-1zM402 469h1v50h-1zM403 492h1v36h-1zM404 487h1v54h-1zM405 518h1v41h-1zM406 497h1v62h-1zM407 492h1v49h-1zM408 479h1v110h-1zM409 479h1v40h-1zM410 483h1v45h-1zM411 483h1v76h-1zM412 497h1v62h-1zM413 497h1v44h-1zM414 487h1v72h-1zM415 503h1v56h-1zM416 497h1v92h-1zM417 503h1v86h-1zM418 497h2v31h-2zM420 483h2v58h-2zM422 492h1v49h-1zM423 492h2v36h-2zM425 503h1v56h-1zM426 497h1v31h-1zM427 487h1v24h-1zM428 469h1v50h-1zM429 469h1v120h-1zM430 497h1v62h-1zM431 503h1v56h-1zM432 503h1v25h-1zM433 503h1v86h-1zM434 497h1v44h-1zM435 510h1v79h-1zM436 518h1v71h-1zM437 492h1v49h-1zM438 492h1v27h-1zM439 492h1v49h-1zM440 503h1v38h-1zM441 487h1v102h-1zM442 527h1v32h-1zM443 497h1v44h-1zM444 497h1v31h-1zM445 497h1v22h-1zM446 510h1v18h-1zM447 503h1v25h-1zM448 510h1v18h-1zM449 487h1v72h-1zM450 492h1v36h-1zM451 518h1v23h-1zM452 377h1v164h-1zM453 101h1v277h-1zM454 101h1v59h-1zM455 159h1v60h-1zM456 218h1v59h-1zM457 276h1v56h-1zM458 331h1v64h-1zM459 394h1v68h-1zM460 440h1v71h-1zM461 497h1v44h-1zM462 510h1v79h-1zM463 518h1v101h-1zM464 540h1v79h-1zM465 540h2v49h-2zM467 540h1v79h-1zM468 558h4v61h-4zM472 588h1v31h-1zM473 558h1v61h-1zM474 540h1v79h-1zM475 540h1v49h-1zM476 588h1v31h-1zM477 558h2v61h-2zM479 588h1v31h-1zM480 540h1v79h-1zM481 619h3v1h-3zM484 558h5v61h-5zM489 540h1v79h-1zM490 619h1v1h-1zM491 558h1v61h-1zM492 588h1v31h-1zM493 440h1v179h-1zM494 619h755v1h-755z" fill="#cccccc"/>
<g font-family="Liberation Sans, sans-serif" fill="#000" stroke="#000" stroke-width="0.4" text-rendering="geometricPrecision" shape-rendering="auto" opacity="0.999"><path transform="translate(70.51 407.10) scale(46.0)" stroke-width="0.0087" d="M.326 0L.234 0L.234 -.5085L.078 -.5085L.078 -.575C.15 -.575 .225 -.61 .266 -.709L.326 -.709Z"/><text transform="translate(96.10 407.10) scale(1 1.045)" font-size="46.0" text-anchor="start">0</text><text transform="translate(118.62 386.00) scale(1 1.045)" font-size="31.5" text-anchor="start">2</text><path transform="translate(70.51 305.80) scale(46.0)" stroke-width="0.0087" d="M.326 0L.234 0L.234 -.5085L.078 -.5085L.078 -.575C.15 -.575 .225 -.61 .266 -.709L.326 -.709Z"/><text transform="translate(96.10 305.80) scale(1 1.045)" font-size="46.0" text-anchor="start">0</text><text transform="translate(118.62 284.70) scale(1 1.045)" font-size="31.5" text-anchor="start">3</text><path transform="translate(70.51 204.50) scale(46.0)" stroke-width="0.0087" d="M.326 0L.234 0L.234 -.5085L.078 -.5085L.078 -.575C.15 -.575 .225 -.61 .266 -.709L.326 -.709Z"/><text transform="translate(96.10 204.50) scale(1 1.045)" font-size="46.0" text-anchor="start">0</text><text transform="translate(118.64 183.40) scale(1 1.045)" font-size="31.5" text-anchor="start">4</text><path transform="translate(70.51 103.20) scale(46.0)" stroke-width="0.0087" d="M.326 0L.234 0L.234 -.5085L.078 -.5085L.078 -.575C.15 -.575 .225 -.61 .266 -.709L.326 -.709Z"/><text transform="translate(96.10 103.20) scale(1 1.045)" font-size="46.0" text-anchor="start">0</text><text transform="translate(118.94 82.10) scale(1 1.045)" font-size="31.5" text-anchor="start">5</text><path transform="translate(83.49 503.20) scale(46.3)" stroke-width="0.0086" d="M.326 0L.234 0L.234 -.5085L.078 -.5085L.078 -.575C.15 -.575 .225 -.61 .266 -.709L.326 -.709Z"/><text transform="translate(109.24 503.20) scale(1 1.045)" font-size="46.3" text-anchor="start">0</text><path transform="translate(109.69 604.20) scale(46.3)" stroke-width="0.0086" d="M.326 0L.234 0L.234 -.5085L.078 -.5085L.078 -.575C.15 -.575 .225 -.61 .266 -.709L.326 -.709Z"/><text transform="translate(144.13 666.80) scale(1 1.045)" font-size="46.3" text-anchor="start">0</text><path transform="translate(353.63 666.80) scale(46.3)" stroke-width="0.0086" d="M.326 0L.234 0L.234 -.5085L.078 -.5085L.078 -.575C.15 -.575 .225 -.61 .266 -.709L.326 -.709Z"/><text transform="translate(379.38 666.80) scale(1 1.045)" font-size="46.3" text-anchor="start">0000</text><text transform="translate(614.63 666.80) scale(1 1.045)" font-size="46.3" text-anchor="start">20000</text><text transform="translate(875.63 666.80) scale(1 1.045)" font-size="46.3" text-anchor="start">30000</text><text transform="translate(1136.63 666.80) scale(1 1.045)" font-size="46.3" text-anchor="start">40000</text><text transform="translate(934.40 704.20) scale(1 1.02)" font-size="47.0" text-anchor="start">Energy [keV]</text><text transform="translate(41.5 235.1) rotate(-90) scale(1 1.05)" font-size="47">Counts</text></g>
</svg>
</body></html>
